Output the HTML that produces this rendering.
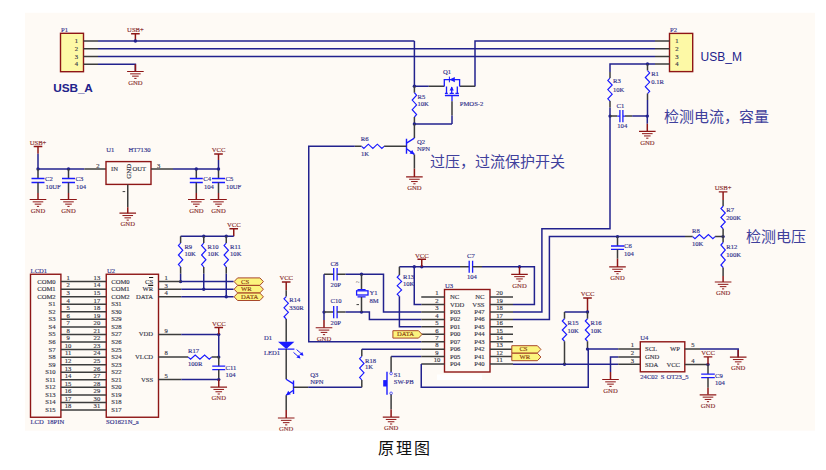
<!DOCTYPE html>
<html lang="zh-CN"><head><meta charset="utf-8"><style>html,body{margin:0;padding:0;background:#fff;}svg{display:block;}</style></head>
<body>
<svg width="826" height="470" viewBox="0 0 826 470">
<rect x="0" y="0" width="826" height="470" fill="#ffffff"/>
<defs><clipPath id="cb"><rect x="25" y="12.8" width="790" height="417.9"/></clipPath></defs>
<rect x="25" y="12.8" width="790" height="417.9" fill="#fefaf5"/>
<g clip-path="url(#cb)">
<rect x="60.5" y="33.3" width="23" height="38.4" fill="#fdf9a6" stroke="#8e1616" stroke-width="1.4"/>
<text transform="translate(61,31.51) scale(0.92,0.95)" font-family="Liberation Serif" font-size="7.2" fill="#34348c" stroke="#34348c" stroke-width="0.18" text-anchor="start" >P1</text>
<text transform="translate(78,43.01) scale(0.92,0.95)" font-family="Liberation Serif" font-size="7.2" fill="#3a3a4a" stroke="#3a3a4a" stroke-width="0.18" text-anchor="end" >1</text>
<line x1="83.5" y1="41" x2="98" y2="41" stroke="#3c3c3c" stroke-width="1.5"/>
<text transform="translate(78,50.76) scale(0.92,0.95)" font-family="Liberation Serif" font-size="7.2" fill="#3a3a4a" stroke="#3a3a4a" stroke-width="0.18" text-anchor="end" >2</text>
<line x1="83.5" y1="48.75" x2="98" y2="48.75" stroke="#3c3c3c" stroke-width="1.5"/>
<text transform="translate(78,58.51) scale(0.92,0.95)" font-family="Liberation Serif" font-size="7.2" fill="#3a3a4a" stroke="#3a3a4a" stroke-width="0.18" text-anchor="end" >3</text>
<line x1="83.5" y1="56.5" x2="98" y2="56.5" stroke="#3c3c3c" stroke-width="1.5"/>
<text transform="translate(78,66.26) scale(0.92,0.95)" font-family="Liberation Serif" font-size="7.2" fill="#3a3a4a" stroke="#3a3a4a" stroke-width="0.18" text-anchor="end" >4</text>
<line x1="83.5" y1="64.25" x2="98" y2="64.25" stroke="#3c3c3c" stroke-width="1.5"/>
<line x1="98" y1="41" x2="414.4" y2="41" stroke="#22228e" stroke-width="1.5"/>
<line x1="98" y1="48.75" x2="655" y2="48.75" stroke="#22228e" stroke-width="1.5"/>
<line x1="98" y1="56.5" x2="655" y2="56.5" stroke="#22228e" stroke-width="1.5"/>
<polyline points="98,64.25 135.4,64.25 135.4,71.5" fill="none" stroke="#22228e" stroke-width="1.5" stroke-linejoin="miter"/>
<line x1="135.4" y1="64.25" x2="135.4" y2="71.5" stroke="#8e1616" stroke-width="1.5"/>
<line x1="127.1" y1="71.5" x2="143.7" y2="71.5" stroke="#8e1616" stroke-width="1.2"/>
<line x1="130.1" y1="73.85" x2="140.7" y2="73.85" stroke="#8e1616" stroke-width="1.0"/>
<line x1="132.1" y1="76.15" x2="138.7" y2="76.15" stroke="#8e1616" stroke-width="1.0"/>
<line x1="134.3" y1="78.4" x2="136.5" y2="78.4" stroke="#8e1616" stroke-width="1.0"/>
<text transform="translate(135.4,84.71) scale(0.92,0.95)" font-family="Liberation Serif" font-size="7.2" fill="#8a3030" stroke="#8a3030" stroke-width="0.18" text-anchor="middle" >GND</text>
<line x1="135.4" y1="33.7" x2="135.4" y2="41" stroke="#8e1616" stroke-width="1.5"/>
<line x1="131.1" y1="33.7" x2="139.7" y2="33.7" stroke="#8e1616" stroke-width="1.4"/>
<text transform="translate(135.4,32.01) scale(0.92,0.95)" font-family="Liberation Serif" font-size="7.2" fill="#8a3030" stroke="#8a3030" stroke-width="0.18" text-anchor="middle" >USB+</text>
<circle cx="135.4" cy="41" r="1.7" fill="#22228e"/>
<text x="53.3" y="91.69" font-family="Liberation Sans" font-size="11.8" fill="#22228a" text-anchor="start" font-weight="bold" letter-spacing="-0.1">USB_A</text>
<rect x="669.5" y="33.4" width="23.2" height="38.2" fill="#fdf9a6" stroke="#8e1616" stroke-width="1.4"/>
<text transform="translate(670,31.71) scale(0.92,0.95)" font-family="Liberation Serif" font-size="7.2" fill="#34348c" stroke="#34348c" stroke-width="0.18" text-anchor="start" >P2</text>
<text transform="translate(676.9,43.01) scale(0.92,0.95)" font-family="Liberation Serif" font-size="7.2" fill="#3a3a4a" stroke="#3a3a4a" stroke-width="0.18" text-anchor="middle" >1</text>
<line x1="655" y1="41" x2="669.5" y2="41" stroke="#3c3c3c" stroke-width="1.5"/>
<text transform="translate(676.9,50.76) scale(0.92,0.95)" font-family="Liberation Serif" font-size="7.2" fill="#3a3a4a" stroke="#3a3a4a" stroke-width="0.18" text-anchor="middle" >2</text>
<line x1="655" y1="48.75" x2="669.5" y2="48.75" stroke="#3c3c3c" stroke-width="1.5"/>
<text transform="translate(676.9,58.51) scale(0.92,0.95)" font-family="Liberation Serif" font-size="7.2" fill="#3a3a4a" stroke="#3a3a4a" stroke-width="0.18" text-anchor="middle" >3</text>
<line x1="655" y1="56.5" x2="669.5" y2="56.5" stroke="#3c3c3c" stroke-width="1.5"/>
<text transform="translate(676.9,66.01) scale(0.92,0.95)" font-family="Liberation Serif" font-size="7.2" fill="#3a3a4a" stroke="#3a3a4a" stroke-width="0.18" text-anchor="middle" >4</text>
<line x1="655" y1="64" x2="669.5" y2="64" stroke="#3c3c3c" stroke-width="1.5"/>
<text x="700.6" y="60.96" font-family="Liberation Sans" font-size="12" fill="#22228a" text-anchor="start" >USB_M</text>
<polyline points="655,41 475,41 475,86.5" fill="none" stroke="#22228e" stroke-width="1.5" stroke-linejoin="miter"/>
<polyline points="655,64 610,64 610,71.9" fill="none" stroke="#22228e" stroke-width="1.5" stroke-linejoin="miter"/>
<polyline points="414.4,41 414.4,86.3 428.8,86.3" fill="none" stroke="#22228e" stroke-width="1.5" stroke-linejoin="miter"/>
<line x1="428.8" y1="86.3" x2="444.2" y2="86.3" stroke="#3c3c3c" stroke-width="1.5"/>
<line x1="459.8" y1="86.3" x2="475" y2="86.3" stroke="#3c3c3c" stroke-width="1.5"/>
<circle cx="414.4" cy="86.3" r="1.7" fill="#22228e"/>
<polyline points="444.3,86.5 444.3,79.6 459.6,79.6 459.6,86.5" fill="none" stroke="#1a1aff" stroke-width="1.3" stroke-linejoin="miter"/>
<polygon points="449.6,79.6 454.8,76.9 454.8,82.3" fill="#1a1aff"/>
<line x1="449.4" y1="76.6" x2="449.4" y2="82.3" stroke="#1a1aff" stroke-width="1"/>
<line x1="446.5" y1="86.5" x2="446.5" y2="93.3" stroke="#1a1aff" stroke-width="1.3"/>
<line x1="457.3" y1="86.5" x2="457.3" y2="93.3" stroke="#1a1aff" stroke-width="1.3"/>
<line x1="444.9" y1="93.3" x2="447.8" y2="93.3" stroke="#1a1aff" stroke-width="1.2"/>
<line x1="455.4" y1="93.3" x2="458.8" y2="93.3" stroke="#1a1aff" stroke-width="1.2"/>
<line x1="451.7" y1="87" x2="451.7" y2="93" stroke="#1a1aff" stroke-width="1.3"/>
<polygon points="451.7,86.6 449.6,90.5 453.8,90.5" fill="#1a1aff"/>
<line x1="449.7" y1="93.3" x2="453.8" y2="93.3" stroke="#1a1aff" stroke-width="1.2"/>
<line x1="444.9" y1="95.5" x2="459" y2="95.5" stroke="#1a1aff" stroke-width="1.4"/>
<line x1="452" y1="95.3" x2="452" y2="101.3" stroke="#1a1aff" stroke-width="1.3"/>
<line x1="452" y1="101.3" x2="452" y2="115.6" stroke="#3c3c3c" stroke-width="1.5"/>
<line x1="452" y1="115.6" x2="452" y2="124" stroke="#22228e" stroke-width="1.5"/>
<text transform="translate(443,74.31) scale(0.92,0.95)" font-family="Liberation Serif" font-size="7.2" fill="#34348c" stroke="#34348c" stroke-width="0.18" text-anchor="start" >Q1</text>
<text transform="translate(459.8,106.41) scale(0.92,0.95)" font-family="Liberation Serif" font-size="7.2" fill="#34348c" stroke="#34348c" stroke-width="0.18" text-anchor="start" >PMOS-2</text>
<line x1="414.4" y1="86.3" x2="414.4" y2="92.75" stroke="#3c3c3c" stroke-width="1.5"/>
<polyline points="414.4,92.75 416.6,95.17 412.2,100.03 416.6,104.88 412.2,109.72 416.6,114.58 414.4,117" fill="none" stroke="#1a1aff" stroke-width="1.15" stroke-linejoin="miter"/>
<line x1="414.4" y1="117" x2="414.4" y2="124" stroke="#3c3c3c" stroke-width="1.5"/>
<circle cx="414.4" cy="124" r="1.7" fill="#22228e"/>
<line x1="414.4" y1="124" x2="452" y2="124" stroke="#22228e" stroke-width="1.5"/>
<text transform="translate(417.5,98.91) scale(0.92,0.95)" font-family="Liberation Serif" font-size="7.2" fill="#34348c" stroke="#34348c" stroke-width="0.18" text-anchor="start" >R5</text>
<text transform="translate(417.5,106.41) scale(0.92,0.95)" font-family="Liberation Serif" font-size="7.2" fill="#34348c" stroke="#34348c" stroke-width="0.18" text-anchor="start" >10K</text>
<line x1="414.4" y1="124" x2="414.4" y2="138.1" stroke="#3c3c3c" stroke-width="1.5"/>
<line x1="414.4" y1="138.1" x2="406.5" y2="143.1" stroke="#1a1aff" stroke-width="1.3"/>
<line x1="406.5" y1="138.7" x2="406.5" y2="153.8" stroke="#1a1aff" stroke-width="1.4"/>
<line x1="406.5" y1="148.7" x2="414.4" y2="154.4" stroke="#1a1aff" stroke-width="1.3"/>
<polygon points="414.6,154.6 409.6,153.6 412.2,149.9" fill="#1a1aff"/>
<line x1="414.4" y1="154.4" x2="414.4" y2="168.8" stroke="#3c3c3c" stroke-width="1.5"/>
<line x1="414.4" y1="168.8" x2="414.4" y2="176.9" stroke="#8e1616" stroke-width="1.5"/>
<line x1="406.1" y1="176.9" x2="422.7" y2="176.9" stroke="#8e1616" stroke-width="1.2"/>
<line x1="409.1" y1="179.25" x2="419.7" y2="179.25" stroke="#8e1616" stroke-width="1.0"/>
<line x1="411.1" y1="181.55" x2="417.7" y2="181.55" stroke="#8e1616" stroke-width="1.0"/>
<line x1="413.3" y1="183.8" x2="415.5" y2="183.8" stroke="#8e1616" stroke-width="1.0"/>
<text transform="translate(414.4,190.11) scale(0.92,0.95)" font-family="Liberation Serif" font-size="7.2" fill="#8a3030" stroke="#8a3030" stroke-width="0.18" text-anchor="middle" >GND</text>
<line x1="384.1" y1="146.3" x2="406.5" y2="146.3" stroke="#3c3c3c" stroke-width="1.5"/>
<text transform="translate(416.9,143.91) scale(0.92,0.95)" font-family="Liberation Serif" font-size="7.2" fill="#34348c" stroke="#34348c" stroke-width="0.18" text-anchor="start" >Q2</text>
<text transform="translate(416.9,151.21) scale(0.92,0.95)" font-family="Liberation Serif" font-size="7.2" fill="#34348c" stroke="#34348c" stroke-width="0.18" text-anchor="start" >NPN</text>
<line x1="354.8" y1="146.3" x2="361.6" y2="146.3" stroke="#3c3c3c" stroke-width="1.5"/>
<polyline points="361.6,146.3 363.85,148.4 368.35,144.2 372.85,148.4 377.35,144.2 381.85,148.4 384.1,146.3" fill="none" stroke="#1a1aff" stroke-width="1.15" stroke-linejoin="miter"/>
<polyline points="354.8,146.3 308.75,146.3 308.75,341.74 421.25,341.74" fill="none" stroke="#22228e" stroke-width="1.5" stroke-linejoin="miter"/>
<text transform="translate(360.8,141.31) scale(0.92,0.95)" font-family="Liberation Serif" font-size="7.2" fill="#34348c" stroke="#34348c" stroke-width="0.18" text-anchor="start" >R6</text>
<text transform="translate(361,155.71) scale(0.92,0.95)" font-family="Liberation Serif" font-size="7.2" fill="#34348c" stroke="#34348c" stroke-width="0.18" text-anchor="start" >1K</text>
<text x="429.5" y="166.95" font-family="Liberation Serif" font-size="15" fill="#40409c" text-anchor="start" >过压，过流保护开关</text>
<line x1="610" y1="71.9" x2="610" y2="78.1" stroke="#3c3c3c" stroke-width="1.5"/>
<polyline points="610,78.1 607.8,80.4 612.2,85 607.8,89.6 612.2,94.2 607.8,98.8 610,101.1" fill="none" stroke="#1a1aff" stroke-width="1.15" stroke-linejoin="miter"/>
<line x1="610" y1="101.1" x2="610" y2="107.5" stroke="#3c3c3c" stroke-width="1.5"/>
<polyline points="610,107.5 610,228.75 541.9,228.75 541.9,311.98 513,311.98" fill="none" stroke="#22228e" stroke-width="1.5" stroke-linejoin="miter"/>
<circle cx="647.5" cy="64" r="1.7" fill="#22228e"/>
<line x1="647.5" y1="64" x2="647.5" y2="70.6" stroke="#3c3c3c" stroke-width="1.5"/>
<polyline points="647.5,70.6 649.7,72.9 645.3,77.5 649.7,82.1 645.3,86.7 649.7,91.3 647.5,93.6" fill="none" stroke="#1a1aff" stroke-width="1.15" stroke-linejoin="miter"/>
<line x1="647.5" y1="93.6" x2="647.5" y2="100" stroke="#3c3c3c" stroke-width="1.5"/>
<line x1="647.5" y1="100" x2="647.5" y2="116.1" stroke="#22228e" stroke-width="1.5"/>
<circle cx="610" cy="116.1" r="1.7" fill="#22228e"/>
<circle cx="647.3" cy="116.1" r="1.7" fill="#22228e"/>
<line x1="610" y1="116.1" x2="617.3" y2="116.1" stroke="#3c3c3c" stroke-width="1.5"/>
<line x1="617.3" y1="116.1" x2="619.9" y2="116.1" stroke="#1a1aff" stroke-width="1.2"/>
<line x1="622.9" y1="116.1" x2="625" y2="116.1" stroke="#1a1aff" stroke-width="1.2"/>
<line x1="619.9" y1="109.9" x2="619.9" y2="122.3" stroke="#1a1aff" stroke-width="1.3"/>
<line x1="622.9" y1="109.9" x2="622.9" y2="122.3" stroke="#1a1aff" stroke-width="1.3"/>
<line x1="625" y1="116.1" x2="632.2" y2="116.1" stroke="#3c3c3c" stroke-width="1.5"/>
<line x1="632.2" y1="116.1" x2="647.3" y2="116.1" stroke="#22228e" stroke-width="1.5"/>
<line x1="647.3" y1="116.1" x2="647.3" y2="123.8" stroke="#22228e" stroke-width="1.5"/>
<line x1="647.3" y1="123.8" x2="647.3" y2="131.3" stroke="#8e1616" stroke-width="1.5"/>
<line x1="639" y1="131.3" x2="655.6" y2="131.3" stroke="#8e1616" stroke-width="1.2"/>
<line x1="642" y1="133.65" x2="652.6" y2="133.65" stroke="#8e1616" stroke-width="1.0"/>
<line x1="644" y1="135.95" x2="650.6" y2="135.95" stroke="#8e1616" stroke-width="1.0"/>
<line x1="646.2" y1="138.2" x2="648.4" y2="138.2" stroke="#8e1616" stroke-width="1.0"/>
<text transform="translate(647.3,144.51) scale(0.92,0.95)" font-family="Liberation Serif" font-size="7.2" fill="#8a3030" stroke="#8a3030" stroke-width="0.18" text-anchor="middle" >GND</text>
<text transform="translate(613,83.31) scale(0.92,0.95)" font-family="Liberation Serif" font-size="7.2" fill="#34348c" stroke="#34348c" stroke-width="0.18" text-anchor="start" >R3</text>
<text transform="translate(613,91.61) scale(0.92,0.95)" font-family="Liberation Serif" font-size="7.2" fill="#34348c" stroke="#34348c" stroke-width="0.18" text-anchor="start" >10K</text>
<text transform="translate(651.2,75.81) scale(0.92,0.95)" font-family="Liberation Serif" font-size="7.2" fill="#34348c" stroke="#34348c" stroke-width="0.18" text-anchor="start" >R1</text>
<text transform="translate(651.2,84.01) scale(0.92,0.95)" font-family="Liberation Serif" font-size="7.2" fill="#34348c" stroke="#34348c" stroke-width="0.18" text-anchor="start" >0.1R</text>
<text transform="translate(616.5,108.01) scale(0.92,0.95)" font-family="Liberation Serif" font-size="7.2" fill="#34348c" stroke="#34348c" stroke-width="0.18" text-anchor="start" >C1</text>
<text transform="translate(617.3,128.11) scale(0.92,0.95)" font-family="Liberation Serif" font-size="7.2" fill="#34348c" stroke="#34348c" stroke-width="0.18" text-anchor="start" >104</text>
<text x="663.75" y="121.95" font-family="Liberation Serif" font-size="15" fill="#40409c" text-anchor="start" >检测电流，容量</text>
<line x1="33.7" y1="146.5" x2="42.3" y2="146.5" stroke="#8e1616" stroke-width="1.4"/>
<text transform="translate(38,144.81) scale(0.92,0.95)" font-family="Liberation Serif" font-size="7.2" fill="#8a3030" stroke="#8a3030" stroke-width="0.18" text-anchor="middle" >USB+</text>
<line x1="38" y1="146.5" x2="38" y2="153.8" stroke="#8e1616" stroke-width="1.5"/>
<line x1="38" y1="153.8" x2="38" y2="169" stroke="#22228e" stroke-width="1.5"/>
<line x1="38" y1="169" x2="84.4" y2="169" stroke="#22228e" stroke-width="1.5"/>
<line x1="84.4" y1="169" x2="106" y2="169" stroke="#3c3c3c" stroke-width="1.5"/>
<circle cx="38" cy="169" r="1.7" fill="#22228e"/>
<circle cx="68.5" cy="169" r="1.7" fill="#22228e"/>
<line x1="38" y1="169" x2="38" y2="178.5" stroke="#3c3c3c" stroke-width="1.5"/>
<line x1="31.5" y1="178.5" x2="44.5" y2="178.5" stroke="#1a1aff" stroke-width="1.3"/>
<line x1="31.5" y1="182.5" x2="44.5" y2="182.5" stroke="#1a1aff" stroke-width="1.3"/>
<line x1="38" y1="182.5" x2="38" y2="193" stroke="#3c3c3c" stroke-width="1.5"/>
<line x1="38" y1="193" x2="38" y2="199.5" stroke="#8e1616" stroke-width="1.5"/>
<line x1="29.7" y1="199.5" x2="46.3" y2="199.5" stroke="#8e1616" stroke-width="1.2"/>
<line x1="32.7" y1="201.85" x2="43.3" y2="201.85" stroke="#8e1616" stroke-width="1.0"/>
<line x1="34.7" y1="204.15" x2="41.3" y2="204.15" stroke="#8e1616" stroke-width="1.0"/>
<line x1="36.9" y1="206.4" x2="39.1" y2="206.4" stroke="#8e1616" stroke-width="1.0"/>
<text transform="translate(38,212.71) scale(0.92,0.95)" font-family="Liberation Serif" font-size="7.2" fill="#8a3030" stroke="#8a3030" stroke-width="0.18" text-anchor="middle" >GND</text>
<text transform="translate(45,181.41) scale(0.92,0.95)" font-family="Liberation Serif" font-size="7.2" fill="#34348c" stroke="#34348c" stroke-width="0.18" text-anchor="start" >C2</text>
<text transform="translate(45.6,189.01) scale(0.92,0.95)" font-family="Liberation Serif" font-size="7.2" fill="#34348c" stroke="#34348c" stroke-width="0.18" text-anchor="start" >10UF</text>
<line x1="68.5" y1="169" x2="68.5" y2="178.5" stroke="#3c3c3c" stroke-width="1.5"/>
<line x1="62" y1="178.5" x2="75" y2="178.5" stroke="#1a1aff" stroke-width="1.3"/>
<line x1="62" y1="182.5" x2="75" y2="182.5" stroke="#1a1aff" stroke-width="1.3"/>
<line x1="68.5" y1="182.5" x2="68.5" y2="193" stroke="#3c3c3c" stroke-width="1.5"/>
<line x1="68.5" y1="193" x2="68.5" y2="199.5" stroke="#8e1616" stroke-width="1.5"/>
<line x1="60.2" y1="199.5" x2="76.8" y2="199.5" stroke="#8e1616" stroke-width="1.2"/>
<line x1="63.2" y1="201.85" x2="73.8" y2="201.85" stroke="#8e1616" stroke-width="1.0"/>
<line x1="65.2" y1="204.15" x2="71.8" y2="204.15" stroke="#8e1616" stroke-width="1.0"/>
<line x1="67.4" y1="206.4" x2="69.6" y2="206.4" stroke="#8e1616" stroke-width="1.0"/>
<text transform="translate(68.5,212.71) scale(0.92,0.95)" font-family="Liberation Serif" font-size="7.2" fill="#8a3030" stroke="#8a3030" stroke-width="0.18" text-anchor="middle" >GND</text>
<text transform="translate(75.5,181.41) scale(0.92,0.95)" font-family="Liberation Serif" font-size="7.2" fill="#34348c" stroke="#34348c" stroke-width="0.18" text-anchor="start" >C3</text>
<text transform="translate(76.1,189.01) scale(0.92,0.95)" font-family="Liberation Serif" font-size="7.2" fill="#34348c" stroke="#34348c" stroke-width="0.18" text-anchor="start" >104</text>
<line x1="196.3" y1="169" x2="196.3" y2="178.5" stroke="#3c3c3c" stroke-width="1.5"/>
<line x1="189.8" y1="178.5" x2="202.8" y2="178.5" stroke="#1a1aff" stroke-width="1.3"/>
<line x1="189.8" y1="182.5" x2="202.8" y2="182.5" stroke="#1a1aff" stroke-width="1.3"/>
<line x1="196.3" y1="182.5" x2="196.3" y2="193" stroke="#3c3c3c" stroke-width="1.5"/>
<line x1="196.3" y1="193" x2="196.3" y2="199.5" stroke="#8e1616" stroke-width="1.5"/>
<line x1="188" y1="199.5" x2="204.6" y2="199.5" stroke="#8e1616" stroke-width="1.2"/>
<line x1="191" y1="201.85" x2="201.6" y2="201.85" stroke="#8e1616" stroke-width="1.0"/>
<line x1="193" y1="204.15" x2="199.6" y2="204.15" stroke="#8e1616" stroke-width="1.0"/>
<line x1="195.2" y1="206.4" x2="197.4" y2="206.4" stroke="#8e1616" stroke-width="1.0"/>
<text transform="translate(196.3,212.71) scale(0.92,0.95)" font-family="Liberation Serif" font-size="7.2" fill="#8a3030" stroke="#8a3030" stroke-width="0.18" text-anchor="middle" >GND</text>
<text transform="translate(203.3,181.41) scale(0.92,0.95)" font-family="Liberation Serif" font-size="7.2" fill="#34348c" stroke="#34348c" stroke-width="0.18" text-anchor="start" >C4</text>
<text transform="translate(203.9,189.01) scale(0.92,0.95)" font-family="Liberation Serif" font-size="7.2" fill="#34348c" stroke="#34348c" stroke-width="0.18" text-anchor="start" >104</text>
<line x1="218.5" y1="169" x2="218.5" y2="178.5" stroke="#3c3c3c" stroke-width="1.5"/>
<line x1="212" y1="178.5" x2="225" y2="178.5" stroke="#1a1aff" stroke-width="1.3"/>
<line x1="212" y1="182.5" x2="225" y2="182.5" stroke="#1a1aff" stroke-width="1.3"/>
<line x1="218.5" y1="182.5" x2="218.5" y2="193" stroke="#3c3c3c" stroke-width="1.5"/>
<line x1="218.5" y1="193" x2="218.5" y2="199.5" stroke="#8e1616" stroke-width="1.5"/>
<line x1="210.2" y1="199.5" x2="226.8" y2="199.5" stroke="#8e1616" stroke-width="1.2"/>
<line x1="213.2" y1="201.85" x2="223.8" y2="201.85" stroke="#8e1616" stroke-width="1.0"/>
<line x1="215.2" y1="204.15" x2="221.8" y2="204.15" stroke="#8e1616" stroke-width="1.0"/>
<line x1="217.4" y1="206.4" x2="219.6" y2="206.4" stroke="#8e1616" stroke-width="1.0"/>
<text transform="translate(218.5,212.71) scale(0.92,0.95)" font-family="Liberation Serif" font-size="7.2" fill="#8a3030" stroke="#8a3030" stroke-width="0.18" text-anchor="middle" >GND</text>
<text transform="translate(225.5,181.41) scale(0.92,0.95)" font-family="Liberation Serif" font-size="7.2" fill="#34348c" stroke="#34348c" stroke-width="0.18" text-anchor="start" >C5</text>
<text transform="translate(226.1,189.01) scale(0.92,0.95)" font-family="Liberation Serif" font-size="7.2" fill="#34348c" stroke="#34348c" stroke-width="0.18" text-anchor="start" >10UF</text>
<rect x="106" y="161.6" width="45" height="22.8" fill="none" stroke="#8e1616" stroke-width="1.4"/>
<text transform="translate(106.25,152.26) scale(0.92,0.95)" font-family="Liberation Serif" font-size="7.2" fill="#34348c" stroke="#34348c" stroke-width="0.18" text-anchor="start" >U1</text>
<text transform="translate(128.5,152.26) scale(0.92,0.95)" font-family="Liberation Serif" font-size="7.2" fill="#34348c" stroke="#34348c" stroke-width="0.18" text-anchor="start" >HT7130</text>
<text transform="translate(111,170.51) scale(0.92,0.95)" font-family="Liberation Serif" font-size="7.2" fill="#3a3a4a" stroke="#3a3a4a" stroke-width="0.18" text-anchor="start" >IN</text>
<text transform="translate(132.5,170.51) scale(0.92,0.95)" font-family="Liberation Serif" font-size="7.2" fill="#3a3a4a" stroke="#3a3a4a" stroke-width="0.18" text-anchor="start" >OUT</text>
<text transform="translate(130.6,171.3) rotate(-90) scale(0.95,0.95)" font-family="Liberation Serif" font-size="7.2" fill="#3a3a4a" stroke="#3a3a4a" stroke-width="0.18" text-anchor="middle">GND</text>
<text transform="translate(98,167.61) scale(0.92,0.95)" font-family="Liberation Serif" font-size="7.2" fill="#3a3a4a" stroke="#3a3a4a" stroke-width="0.18" text-anchor="middle" >2</text>
<text transform="translate(158.7,167.61) scale(0.92,0.95)" font-family="Liberation Serif" font-size="7.2" fill="#3a3a4a" stroke="#3a3a4a" stroke-width="0.18" text-anchor="middle" >3</text>
<line x1="127.75" y1="184.4" x2="127.75" y2="207.2" stroke="#3c3c3c" stroke-width="1.5"/>
<line x1="127.75" y1="207.2" x2="127.75" y2="213.2" stroke="#8e1616" stroke-width="1.5"/>
<line x1="119.45" y1="213.2" x2="136.05" y2="213.2" stroke="#8e1616" stroke-width="1.2"/>
<line x1="122.45" y1="215.55" x2="133.05" y2="215.55" stroke="#8e1616" stroke-width="1.0"/>
<line x1="124.45" y1="217.85" x2="131.05" y2="217.85" stroke="#8e1616" stroke-width="1.0"/>
<line x1="126.65" y1="220.1" x2="128.85" y2="220.1" stroke="#8e1616" stroke-width="1.0"/>
<text transform="translate(127.75,226.41) scale(0.92,0.95)" font-family="Liberation Serif" font-size="7.2" fill="#8a3030" stroke="#8a3030" stroke-width="0.18" text-anchor="middle" >GND</text>
<line x1="122.6" y1="191.6" x2="125.2" y2="191.6" stroke="#3c3c3c" stroke-width="1"/>
<line x1="151" y1="169" x2="173" y2="169" stroke="#3c3c3c" stroke-width="1.5"/>
<line x1="173" y1="169" x2="218.5" y2="169" stroke="#22228e" stroke-width="1.5"/>
<circle cx="196.3" cy="169" r="1.7" fill="#22228e"/>
<circle cx="218.5" cy="169" r="1.7" fill="#22228e"/>
<line x1="218.5" y1="154" x2="218.5" y2="160" stroke="#8e1616" stroke-width="1.5"/>
<line x1="218.5" y1="160" x2="218.5" y2="169" stroke="#22228e" stroke-width="1.5"/>
<line x1="214.2" y1="154" x2="222.8" y2="154" stroke="#8e1616" stroke-width="1.4"/>
<text transform="translate(218.5,152.31) scale(0.92,0.95)" font-family="Liberation Serif" font-size="7.2" fill="#8a3030" stroke="#8a3030" stroke-width="0.18" text-anchor="middle" >VCC</text>
<line x1="229.45" y1="228.75" x2="238.05" y2="228.75" stroke="#8e1616" stroke-width="1.4"/>
<text transform="translate(233.75,227.06) scale(0.92,0.95)" font-family="Liberation Serif" font-size="7.2" fill="#8a3030" stroke="#8a3030" stroke-width="0.18" text-anchor="middle" >VCC</text>
<line x1="233.75" y1="228.75" x2="233.75" y2="236.25" stroke="#8e1616" stroke-width="1.5"/>
<line x1="180.6" y1="236.25" x2="233.75" y2="236.25" stroke="#22228e" stroke-width="1.5"/>
<circle cx="203.75" cy="236.25" r="1.7" fill="#22228e"/>
<circle cx="226.25" cy="236.25" r="1.7" fill="#22228e"/>
<line x1="180.6" y1="236.25" x2="180.6" y2="243.1" stroke="#3c3c3c" stroke-width="1.5"/>
<polyline points="180.6,243.1 178.4,245.48 182.8,250.24 178.4,255 182.8,259.76 178.4,264.52 180.6,266.9" fill="none" stroke="#1a1aff" stroke-width="1.15" stroke-linejoin="miter"/>
<line x1="180.6" y1="266.9" x2="180.6" y2="273.75" stroke="#3c3c3c" stroke-width="1.5"/>
<line x1="180.6" y1="273.75" x2="180.6" y2="281.6" stroke="#22228e" stroke-width="1.5"/>
<circle cx="180.6" cy="281.6" r="1.7" fill="#22228e"/>
<text transform="translate(184.4,248.51) scale(0.92,0.95)" font-family="Liberation Serif" font-size="7.2" fill="#34348c" stroke="#34348c" stroke-width="0.18" text-anchor="start" >R9</text>
<text transform="translate(184.4,256.01) scale(0.92,0.95)" font-family="Liberation Serif" font-size="7.2" fill="#34348c" stroke="#34348c" stroke-width="0.18" text-anchor="start" >10K</text>
<line x1="203.75" y1="236.25" x2="203.75" y2="243.1" stroke="#3c3c3c" stroke-width="1.5"/>
<polyline points="203.75,243.1 201.55,245.48 205.95,250.24 201.55,255 205.95,259.76 201.55,264.52 203.75,266.9" fill="none" stroke="#1a1aff" stroke-width="1.15" stroke-linejoin="miter"/>
<line x1="203.75" y1="266.9" x2="203.75" y2="273.75" stroke="#3c3c3c" stroke-width="1.5"/>
<line x1="203.75" y1="273.75" x2="203.75" y2="289.2" stroke="#22228e" stroke-width="1.5"/>
<circle cx="203.75" cy="289.2" r="1.7" fill="#22228e"/>
<text transform="translate(207.55,248.51) scale(0.92,0.95)" font-family="Liberation Serif" font-size="7.2" fill="#34348c" stroke="#34348c" stroke-width="0.18" text-anchor="start" >R10</text>
<text transform="translate(207.55,256.01) scale(0.92,0.95)" font-family="Liberation Serif" font-size="7.2" fill="#34348c" stroke="#34348c" stroke-width="0.18" text-anchor="start" >10K</text>
<line x1="226.25" y1="236.25" x2="226.25" y2="243.1" stroke="#3c3c3c" stroke-width="1.5"/>
<polyline points="226.25,243.1 224.05,245.48 228.45,250.24 224.05,255 228.45,259.76 224.05,264.52 226.25,266.9" fill="none" stroke="#1a1aff" stroke-width="1.15" stroke-linejoin="miter"/>
<line x1="226.25" y1="266.9" x2="226.25" y2="273.75" stroke="#3c3c3c" stroke-width="1.5"/>
<line x1="226.25" y1="273.75" x2="226.25" y2="296.8" stroke="#22228e" stroke-width="1.5"/>
<circle cx="226.25" cy="296.8" r="1.7" fill="#22228e"/>
<text transform="translate(230.05,248.51) scale(0.92,0.95)" font-family="Liberation Serif" font-size="7.2" fill="#34348c" stroke="#34348c" stroke-width="0.18" text-anchor="start" >R11</text>
<text transform="translate(230.05,256.01) scale(0.92,0.95)" font-family="Liberation Serif" font-size="7.2" fill="#34348c" stroke="#34348c" stroke-width="0.18" text-anchor="start" >10K</text>
<rect x="30.5" y="274.25" width="30.4" height="143" fill="none" stroke="#8e1616" stroke-width="1.4"/>
<rect x="106.25" y="274.25" width="52.25" height="143" fill="none" stroke="#8e1616" stroke-width="1.4"/>
<text transform="translate(30.6,272.51) scale(0.92,0.95)" font-family="Liberation Serif" font-size="7.2" fill="#34348c" stroke="#34348c" stroke-width="0.18" text-anchor="start" >LCD1</text>
<text transform="translate(106.9,272.51) scale(0.92,0.95)" font-family="Liberation Serif" font-size="7.2" fill="#34348c" stroke="#34348c" stroke-width="0.18" text-anchor="start" >U2</text>
<text transform="translate(30.5,423.51) scale(0.92,0.95)" font-family="Liberation Serif" font-size="7.2" fill="#34348c" stroke="#34348c" stroke-width="0.18" text-anchor="start" >LCD</text>
<text transform="translate(47,423.51) scale(0.92,0.95)" font-family="Liberation Serif" font-size="7.2" fill="#34348c" stroke="#34348c" stroke-width="0.18" text-anchor="start" >18PIN</text>
<text transform="translate(106,423.91) scale(0.92,0.95)" font-family="Liberation Serif" font-size="7.2" fill="#34348c" stroke="#34348c" stroke-width="0.18" text-anchor="start" >SO1621N_a</text>
<line x1="60.9" y1="281.6" x2="106.25" y2="281.6" stroke="#3c3c3c" stroke-width="1.5"/>
<text transform="translate(55.6,283.61) scale(0.92,0.95)" font-family="Liberation Serif" font-size="7.2" fill="#3a3a4a" stroke="#3a3a4a" stroke-width="0.18" text-anchor="end" >COM0</text>
<text transform="translate(111.25,283.61) scale(0.92,0.95)" font-family="Liberation Serif" font-size="7.2" fill="#3a3a4a" stroke="#3a3a4a" stroke-width="0.18" text-anchor="start" >COM0</text>
<text transform="translate(68.1,279.91) scale(0.92,0.95)" font-family="Liberation Serif" font-size="7.2" fill="#3a3a4a" stroke="#3a3a4a" stroke-width="0.18" text-anchor="middle" >1</text>
<text transform="translate(96.9,279.91) scale(0.92,0.95)" font-family="Liberation Serif" font-size="7.2" fill="#3a3a4a" stroke="#3a3a4a" stroke-width="0.18" text-anchor="middle" >13</text>
<line x1="60.9" y1="289.15" x2="106.25" y2="289.15" stroke="#3c3c3c" stroke-width="1.5"/>
<text transform="translate(55.6,291.17) scale(0.92,0.95)" font-family="Liberation Serif" font-size="7.2" fill="#3a3a4a" stroke="#3a3a4a" stroke-width="0.18" text-anchor="end" >COM1</text>
<text transform="translate(111.25,291.17) scale(0.92,0.95)" font-family="Liberation Serif" font-size="7.2" fill="#3a3a4a" stroke="#3a3a4a" stroke-width="0.18" text-anchor="start" >COM1</text>
<text transform="translate(68.1,287.47) scale(0.92,0.95)" font-family="Liberation Serif" font-size="7.2" fill="#3a3a4a" stroke="#3a3a4a" stroke-width="0.18" text-anchor="middle" >2</text>
<text transform="translate(96.9,287.47) scale(0.92,0.95)" font-family="Liberation Serif" font-size="7.2" fill="#3a3a4a" stroke="#3a3a4a" stroke-width="0.18" text-anchor="middle" >14</text>
<line x1="60.9" y1="296.71" x2="106.25" y2="296.71" stroke="#3c3c3c" stroke-width="1.5"/>
<text transform="translate(55.6,298.72) scale(0.92,0.95)" font-family="Liberation Serif" font-size="7.2" fill="#3a3a4a" stroke="#3a3a4a" stroke-width="0.18" text-anchor="end" >COM2</text>
<text transform="translate(111.25,298.72) scale(0.92,0.95)" font-family="Liberation Serif" font-size="7.2" fill="#3a3a4a" stroke="#3a3a4a" stroke-width="0.18" text-anchor="start" >COM2</text>
<text transform="translate(68.1,295.02) scale(0.92,0.95)" font-family="Liberation Serif" font-size="7.2" fill="#3a3a4a" stroke="#3a3a4a" stroke-width="0.18" text-anchor="middle" >3</text>
<text transform="translate(96.9,295.02) scale(0.92,0.95)" font-family="Liberation Serif" font-size="7.2" fill="#3a3a4a" stroke="#3a3a4a" stroke-width="0.18" text-anchor="middle" >15</text>
<line x1="60.9" y1="304.26" x2="106.25" y2="304.26" stroke="#3c3c3c" stroke-width="1.5"/>
<text transform="translate(55.6,306.27) scale(0.92,0.95)" font-family="Liberation Serif" font-size="7.2" fill="#3a3a4a" stroke="#3a3a4a" stroke-width="0.18" text-anchor="end" >S1</text>
<text transform="translate(111.25,306.27) scale(0.92,0.95)" font-family="Liberation Serif" font-size="7.2" fill="#3a3a4a" stroke="#3a3a4a" stroke-width="0.18" text-anchor="start" >S31</text>
<text transform="translate(68.1,302.57) scale(0.92,0.95)" font-family="Liberation Serif" font-size="7.2" fill="#3a3a4a" stroke="#3a3a4a" stroke-width="0.18" text-anchor="middle" >4</text>
<text transform="translate(96.9,302.57) scale(0.92,0.95)" font-family="Liberation Serif" font-size="7.2" fill="#3a3a4a" stroke="#3a3a4a" stroke-width="0.18" text-anchor="middle" >17</text>
<line x1="60.9" y1="311.81" x2="106.25" y2="311.81" stroke="#3c3c3c" stroke-width="1.5"/>
<text transform="translate(55.6,313.83) scale(0.92,0.95)" font-family="Liberation Serif" font-size="7.2" fill="#3a3a4a" stroke="#3a3a4a" stroke-width="0.18" text-anchor="end" >S2</text>
<text transform="translate(111.25,313.83) scale(0.92,0.95)" font-family="Liberation Serif" font-size="7.2" fill="#3a3a4a" stroke="#3a3a4a" stroke-width="0.18" text-anchor="start" >S30</text>
<text transform="translate(68.1,310.13) scale(0.92,0.95)" font-family="Liberation Serif" font-size="7.2" fill="#3a3a4a" stroke="#3a3a4a" stroke-width="0.18" text-anchor="middle" >5</text>
<text transform="translate(96.9,310.13) scale(0.92,0.95)" font-family="Liberation Serif" font-size="7.2" fill="#3a3a4a" stroke="#3a3a4a" stroke-width="0.18" text-anchor="middle" >18</text>
<line x1="60.9" y1="319.37" x2="106.25" y2="319.37" stroke="#3c3c3c" stroke-width="1.5"/>
<text transform="translate(55.6,321.38) scale(0.92,0.95)" font-family="Liberation Serif" font-size="7.2" fill="#3a3a4a" stroke="#3a3a4a" stroke-width="0.18" text-anchor="end" >S3</text>
<text transform="translate(111.25,321.38) scale(0.92,0.95)" font-family="Liberation Serif" font-size="7.2" fill="#3a3a4a" stroke="#3a3a4a" stroke-width="0.18" text-anchor="start" >S29</text>
<text transform="translate(68.1,317.68) scale(0.92,0.95)" font-family="Liberation Serif" font-size="7.2" fill="#3a3a4a" stroke="#3a3a4a" stroke-width="0.18" text-anchor="middle" >6</text>
<text transform="translate(96.9,317.68) scale(0.92,0.95)" font-family="Liberation Serif" font-size="7.2" fill="#3a3a4a" stroke="#3a3a4a" stroke-width="0.18" text-anchor="middle" >19</text>
<line x1="60.9" y1="326.92" x2="106.25" y2="326.92" stroke="#3c3c3c" stroke-width="1.5"/>
<text transform="translate(55.6,328.93) scale(0.92,0.95)" font-family="Liberation Serif" font-size="7.2" fill="#3a3a4a" stroke="#3a3a4a" stroke-width="0.18" text-anchor="end" >S4</text>
<text transform="translate(111.25,328.93) scale(0.92,0.95)" font-family="Liberation Serif" font-size="7.2" fill="#3a3a4a" stroke="#3a3a4a" stroke-width="0.18" text-anchor="start" >S28</text>
<text transform="translate(68.1,325.23) scale(0.92,0.95)" font-family="Liberation Serif" font-size="7.2" fill="#3a3a4a" stroke="#3a3a4a" stroke-width="0.18" text-anchor="middle" >7</text>
<text transform="translate(96.9,325.23) scale(0.92,0.95)" font-family="Liberation Serif" font-size="7.2" fill="#3a3a4a" stroke="#3a3a4a" stroke-width="0.18" text-anchor="middle" >20</text>
<line x1="60.9" y1="334.47" x2="106.25" y2="334.47" stroke="#3c3c3c" stroke-width="1.5"/>
<text transform="translate(55.6,336.49) scale(0.92,0.95)" font-family="Liberation Serif" font-size="7.2" fill="#3a3a4a" stroke="#3a3a4a" stroke-width="0.18" text-anchor="end" >S5</text>
<text transform="translate(111.25,336.49) scale(0.92,0.95)" font-family="Liberation Serif" font-size="7.2" fill="#3a3a4a" stroke="#3a3a4a" stroke-width="0.18" text-anchor="start" >S27</text>
<text transform="translate(68.1,332.79) scale(0.92,0.95)" font-family="Liberation Serif" font-size="7.2" fill="#3a3a4a" stroke="#3a3a4a" stroke-width="0.18" text-anchor="middle" >8</text>
<text transform="translate(96.9,332.79) scale(0.92,0.95)" font-family="Liberation Serif" font-size="7.2" fill="#3a3a4a" stroke="#3a3a4a" stroke-width="0.18" text-anchor="middle" >21</text>
<line x1="60.9" y1="342.02" x2="106.25" y2="342.02" stroke="#3c3c3c" stroke-width="1.5"/>
<text transform="translate(55.6,344.04) scale(0.92,0.95)" font-family="Liberation Serif" font-size="7.2" fill="#3a3a4a" stroke="#3a3a4a" stroke-width="0.18" text-anchor="end" >S6</text>
<text transform="translate(111.25,344.04) scale(0.92,0.95)" font-family="Liberation Serif" font-size="7.2" fill="#3a3a4a" stroke="#3a3a4a" stroke-width="0.18" text-anchor="start" >S26</text>
<text transform="translate(68.1,340.34) scale(0.92,0.95)" font-family="Liberation Serif" font-size="7.2" fill="#3a3a4a" stroke="#3a3a4a" stroke-width="0.18" text-anchor="middle" >9</text>
<text transform="translate(96.9,340.34) scale(0.92,0.95)" font-family="Liberation Serif" font-size="7.2" fill="#3a3a4a" stroke="#3a3a4a" stroke-width="0.18" text-anchor="middle" >22</text>
<line x1="60.9" y1="349.58" x2="106.25" y2="349.58" stroke="#3c3c3c" stroke-width="1.5"/>
<text transform="translate(55.6,351.59) scale(0.92,0.95)" font-family="Liberation Serif" font-size="7.2" fill="#3a3a4a" stroke="#3a3a4a" stroke-width="0.18" text-anchor="end" >S7</text>
<text transform="translate(111.25,351.59) scale(0.92,0.95)" font-family="Liberation Serif" font-size="7.2" fill="#3a3a4a" stroke="#3a3a4a" stroke-width="0.18" text-anchor="start" >S25</text>
<text transform="translate(68.1,347.89) scale(0.92,0.95)" font-family="Liberation Serif" font-size="7.2" fill="#3a3a4a" stroke="#3a3a4a" stroke-width="0.18" text-anchor="middle" >10</text>
<text transform="translate(96.9,347.89) scale(0.92,0.95)" font-family="Liberation Serif" font-size="7.2" fill="#3a3a4a" stroke="#3a3a4a" stroke-width="0.18" text-anchor="middle" >23</text>
<line x1="60.9" y1="357.13" x2="106.25" y2="357.13" stroke="#3c3c3c" stroke-width="1.5"/>
<text transform="translate(55.6,359.14) scale(0.92,0.95)" font-family="Liberation Serif" font-size="7.2" fill="#3a3a4a" stroke="#3a3a4a" stroke-width="0.18" text-anchor="end" >S8</text>
<text transform="translate(111.25,359.14) scale(0.92,0.95)" font-family="Liberation Serif" font-size="7.2" fill="#3a3a4a" stroke="#3a3a4a" stroke-width="0.18" text-anchor="start" >S24</text>
<text transform="translate(68.1,355.44) scale(0.92,0.95)" font-family="Liberation Serif" font-size="7.2" fill="#3a3a4a" stroke="#3a3a4a" stroke-width="0.18" text-anchor="middle" >11</text>
<text transform="translate(96.9,355.44) scale(0.92,0.95)" font-family="Liberation Serif" font-size="7.2" fill="#3a3a4a" stroke="#3a3a4a" stroke-width="0.18" text-anchor="middle" >24</text>
<line x1="60.9" y1="364.68" x2="106.25" y2="364.68" stroke="#3c3c3c" stroke-width="1.5"/>
<text transform="translate(55.6,366.7) scale(0.92,0.95)" font-family="Liberation Serif" font-size="7.2" fill="#3a3a4a" stroke="#3a3a4a" stroke-width="0.18" text-anchor="end" >S9</text>
<text transform="translate(111.25,366.7) scale(0.92,0.95)" font-family="Liberation Serif" font-size="7.2" fill="#3a3a4a" stroke="#3a3a4a" stroke-width="0.18" text-anchor="start" >S23</text>
<text transform="translate(68.1,363) scale(0.92,0.95)" font-family="Liberation Serif" font-size="7.2" fill="#3a3a4a" stroke="#3a3a4a" stroke-width="0.18" text-anchor="middle" >12</text>
<text transform="translate(96.9,363) scale(0.92,0.95)" font-family="Liberation Serif" font-size="7.2" fill="#3a3a4a" stroke="#3a3a4a" stroke-width="0.18" text-anchor="middle" >25</text>
<line x1="60.9" y1="372.24" x2="106.25" y2="372.24" stroke="#3c3c3c" stroke-width="1.5"/>
<text transform="translate(55.6,374.25) scale(0.92,0.95)" font-family="Liberation Serif" font-size="7.2" fill="#3a3a4a" stroke="#3a3a4a" stroke-width="0.18" text-anchor="end" >S10</text>
<text transform="translate(111.25,374.25) scale(0.92,0.95)" font-family="Liberation Serif" font-size="7.2" fill="#3a3a4a" stroke="#3a3a4a" stroke-width="0.18" text-anchor="start" >S22</text>
<text transform="translate(68.1,370.55) scale(0.92,0.95)" font-family="Liberation Serif" font-size="7.2" fill="#3a3a4a" stroke="#3a3a4a" stroke-width="0.18" text-anchor="middle" >13</text>
<text transform="translate(96.9,370.55) scale(0.92,0.95)" font-family="Liberation Serif" font-size="7.2" fill="#3a3a4a" stroke="#3a3a4a" stroke-width="0.18" text-anchor="middle" >26</text>
<line x1="60.9" y1="379.79" x2="106.25" y2="379.79" stroke="#3c3c3c" stroke-width="1.5"/>
<text transform="translate(55.6,381.8) scale(0.92,0.95)" font-family="Liberation Serif" font-size="7.2" fill="#3a3a4a" stroke="#3a3a4a" stroke-width="0.18" text-anchor="end" >S11</text>
<text transform="translate(111.25,381.8) scale(0.92,0.95)" font-family="Liberation Serif" font-size="7.2" fill="#3a3a4a" stroke="#3a3a4a" stroke-width="0.18" text-anchor="start" >S21</text>
<text transform="translate(68.1,378.1) scale(0.92,0.95)" font-family="Liberation Serif" font-size="7.2" fill="#3a3a4a" stroke="#3a3a4a" stroke-width="0.18" text-anchor="middle" >14</text>
<text transform="translate(96.9,378.1) scale(0.92,0.95)" font-family="Liberation Serif" font-size="7.2" fill="#3a3a4a" stroke="#3a3a4a" stroke-width="0.18" text-anchor="middle" >27</text>
<line x1="60.9" y1="387.34" x2="106.25" y2="387.34" stroke="#3c3c3c" stroke-width="1.5"/>
<text transform="translate(55.6,389.36) scale(0.92,0.95)" font-family="Liberation Serif" font-size="7.2" fill="#3a3a4a" stroke="#3a3a4a" stroke-width="0.18" text-anchor="end" >S12</text>
<text transform="translate(111.25,389.36) scale(0.92,0.95)" font-family="Liberation Serif" font-size="7.2" fill="#3a3a4a" stroke="#3a3a4a" stroke-width="0.18" text-anchor="start" >S20</text>
<text transform="translate(68.1,385.66) scale(0.92,0.95)" font-family="Liberation Serif" font-size="7.2" fill="#3a3a4a" stroke="#3a3a4a" stroke-width="0.18" text-anchor="middle" >15</text>
<text transform="translate(96.9,385.66) scale(0.92,0.95)" font-family="Liberation Serif" font-size="7.2" fill="#3a3a4a" stroke="#3a3a4a" stroke-width="0.18" text-anchor="middle" >28</text>
<line x1="60.9" y1="394.9" x2="106.25" y2="394.9" stroke="#3c3c3c" stroke-width="1.5"/>
<text transform="translate(55.6,396.91) scale(0.92,0.95)" font-family="Liberation Serif" font-size="7.2" fill="#3a3a4a" stroke="#3a3a4a" stroke-width="0.18" text-anchor="end" >S13</text>
<text transform="translate(111.25,396.91) scale(0.92,0.95)" font-family="Liberation Serif" font-size="7.2" fill="#3a3a4a" stroke="#3a3a4a" stroke-width="0.18" text-anchor="start" >S19</text>
<text transform="translate(68.1,393.21) scale(0.92,0.95)" font-family="Liberation Serif" font-size="7.2" fill="#3a3a4a" stroke="#3a3a4a" stroke-width="0.18" text-anchor="middle" >16</text>
<text transform="translate(96.9,393.21) scale(0.92,0.95)" font-family="Liberation Serif" font-size="7.2" fill="#3a3a4a" stroke="#3a3a4a" stroke-width="0.18" text-anchor="middle" >29</text>
<line x1="60.9" y1="402.45" x2="106.25" y2="402.45" stroke="#3c3c3c" stroke-width="1.5"/>
<text transform="translate(55.6,404.46) scale(0.92,0.95)" font-family="Liberation Serif" font-size="7.2" fill="#3a3a4a" stroke="#3a3a4a" stroke-width="0.18" text-anchor="end" >S14</text>
<text transform="translate(111.25,404.46) scale(0.92,0.95)" font-family="Liberation Serif" font-size="7.2" fill="#3a3a4a" stroke="#3a3a4a" stroke-width="0.18" text-anchor="start" >S18</text>
<text transform="translate(68.1,400.76) scale(0.92,0.95)" font-family="Liberation Serif" font-size="7.2" fill="#3a3a4a" stroke="#3a3a4a" stroke-width="0.18" text-anchor="middle" >17</text>
<text transform="translate(96.9,400.76) scale(0.92,0.95)" font-family="Liberation Serif" font-size="7.2" fill="#3a3a4a" stroke="#3a3a4a" stroke-width="0.18" text-anchor="middle" >30</text>
<line x1="60.9" y1="410" x2="106.25" y2="410" stroke="#3c3c3c" stroke-width="1.5"/>
<text transform="translate(55.6,412.02) scale(0.92,0.95)" font-family="Liberation Serif" font-size="7.2" fill="#3a3a4a" stroke="#3a3a4a" stroke-width="0.18" text-anchor="end" >S15</text>
<text transform="translate(111.25,412.02) scale(0.92,0.95)" font-family="Liberation Serif" font-size="7.2" fill="#3a3a4a" stroke="#3a3a4a" stroke-width="0.18" text-anchor="start" >S17</text>
<text transform="translate(68.1,408.32) scale(0.92,0.95)" font-family="Liberation Serif" font-size="7.2" fill="#3a3a4a" stroke="#3a3a4a" stroke-width="0.18" text-anchor="middle" >18</text>
<text transform="translate(96.9,408.32) scale(0.92,0.95)" font-family="Liberation Serif" font-size="7.2" fill="#3a3a4a" stroke="#3a3a4a" stroke-width="0.18" text-anchor="middle" >31</text>
<text transform="translate(153.1,283.61) scale(0.92,0.95)" font-family="Liberation Serif" font-size="7.2" fill="#3a3a4a" stroke="#3a3a4a" stroke-width="0.18" text-anchor="end" >CS</text>
<text transform="translate(166.25,279.91) scale(0.92,0.95)" font-family="Liberation Serif" font-size="7.2" fill="#3a3a4a" stroke="#3a3a4a" stroke-width="0.18" text-anchor="middle" >1</text>
<text transform="translate(153.1,291.21) scale(0.92,0.95)" font-family="Liberation Serif" font-size="7.2" fill="#3a3a4a" stroke="#3a3a4a" stroke-width="0.18" text-anchor="end" >WR</text>
<text transform="translate(166.25,287.51) scale(0.92,0.95)" font-family="Liberation Serif" font-size="7.2" fill="#3a3a4a" stroke="#3a3a4a" stroke-width="0.18" text-anchor="middle" >3</text>
<text transform="translate(153.1,298.81) scale(0.92,0.95)" font-family="Liberation Serif" font-size="7.2" fill="#3a3a4a" stroke="#3a3a4a" stroke-width="0.18" text-anchor="end" >DATA</text>
<text transform="translate(166.25,295.11) scale(0.92,0.95)" font-family="Liberation Serif" font-size="7.2" fill="#3a3a4a" stroke="#3a3a4a" stroke-width="0.18" text-anchor="middle" >4</text>
<text transform="translate(153.1,336.41) scale(0.92,0.95)" font-family="Liberation Serif" font-size="7.2" fill="#3a3a4a" stroke="#3a3a4a" stroke-width="0.18" text-anchor="end" >VDD</text>
<text transform="translate(166.25,332.71) scale(0.92,0.95)" font-family="Liberation Serif" font-size="7.2" fill="#3a3a4a" stroke="#3a3a4a" stroke-width="0.18" text-anchor="middle" >9</text>
<text transform="translate(153.1,359.11) scale(0.92,0.95)" font-family="Liberation Serif" font-size="7.2" fill="#3a3a4a" stroke="#3a3a4a" stroke-width="0.18" text-anchor="end" >VLCD</text>
<text transform="translate(166.25,355.41) scale(0.92,0.95)" font-family="Liberation Serif" font-size="7.2" fill="#3a3a4a" stroke="#3a3a4a" stroke-width="0.18" text-anchor="middle" >8</text>
<text transform="translate(153.1,381.61) scale(0.92,0.95)" font-family="Liberation Serif" font-size="7.2" fill="#3a3a4a" stroke="#3a3a4a" stroke-width="0.18" text-anchor="end" >VSS</text>
<text transform="translate(166.25,377.91) scale(0.92,0.95)" font-family="Liberation Serif" font-size="7.2" fill="#3a3a4a" stroke="#3a3a4a" stroke-width="0.18" text-anchor="middle" >5</text>
<line x1="149" y1="277.5" x2="153.2" y2="277.5" stroke="#1a1a1a" stroke-width="1.1"/>
<line x1="148.2" y1="285.4" x2="153.2" y2="285.4" stroke="#1a1a1a" stroke-width="1.1"/>
<line x1="158.5" y1="281.6" x2="181.25" y2="281.6" stroke="#3c3c3c" stroke-width="1.5"/>
<line x1="181.25" y1="281.6" x2="233.6" y2="281.6" stroke="#22228e" stroke-width="1.5"/>
<line x1="158.5" y1="289.2" x2="181.25" y2="289.2" stroke="#3c3c3c" stroke-width="1.5"/>
<line x1="181.25" y1="289.2" x2="233.6" y2="289.2" stroke="#22228e" stroke-width="1.5"/>
<line x1="158.5" y1="296.8" x2="181.25" y2="296.8" stroke="#3c3c3c" stroke-width="1.5"/>
<line x1="181.25" y1="296.8" x2="233.6" y2="296.8" stroke="#22228e" stroke-width="1.5"/>
<polygon points="234.1,281.6 237.6,277.9 259.9,277.9 263.4,281.6 259.9,285.3 237.6,285.3" fill="#fcf47e" stroke="#a8482a" stroke-width="1.0"/>
<text transform="translate(241.1,283.61) scale(0.92,0.95)" font-family="Liberation Serif" font-size="7.2" fill="#8a4010" stroke="#8a4010" stroke-width="0.18" text-anchor="start" >CS</text>
<polygon points="234.1,289.2 237.6,285.5 259.9,285.5 263.4,289.2 259.9,292.9 237.6,292.9" fill="#fcf47e" stroke="#a8482a" stroke-width="1.0"/>
<text transform="translate(241.1,291.21) scale(0.92,0.95)" font-family="Liberation Serif" font-size="7.2" fill="#8a4010" stroke="#8a4010" stroke-width="0.18" text-anchor="start" >WR</text>
<polygon points="234.1,296.8 237.6,293.1 259.9,293.1 263.4,296.8 259.9,300.5 237.6,300.5" fill="#fcf47e" stroke="#a8482a" stroke-width="1.0"/>
<text transform="translate(241.1,298.81) scale(0.92,0.95)" font-family="Liberation Serif" font-size="7.2" fill="#8a4010" stroke="#8a4010" stroke-width="0.18" text-anchor="start" >DATA</text>
<line x1="158.5" y1="334.4" x2="181.25" y2="334.4" stroke="#3c3c3c" stroke-width="1.5"/>
<line x1="181.25" y1="334.4" x2="218.75" y2="334.4" stroke="#22228e" stroke-width="1.5"/>
<circle cx="218.75" cy="334.4" r="1.7" fill="#22228e"/>
<line x1="218.75" y1="327.5" x2="218.75" y2="334.4" stroke="#8e1616" stroke-width="1.5"/>
<line x1="214.45" y1="327.5" x2="223.05" y2="327.5" stroke="#8e1616" stroke-width="1.4"/>
<text transform="translate(218.75,325.81) scale(0.92,0.95)" font-family="Liberation Serif" font-size="7.2" fill="#8a3030" stroke="#8a3030" stroke-width="0.18" text-anchor="middle" >VCC</text>
<line x1="218.75" y1="334.4" x2="218.75" y2="357.1" stroke="#22228e" stroke-width="1.5"/>
<circle cx="218.75" cy="357.1" r="1.7" fill="#22228e"/>
<line x1="158.5" y1="357.1" x2="188.2" y2="357.1" stroke="#3c3c3c" stroke-width="1.5"/>
<polyline points="188.2,357.1 190.54,359.2 195.22,355 199.9,359.2 204.58,355 209.26,359.2 211.6,357.1" fill="none" stroke="#1a1aff" stroke-width="1.15" stroke-linejoin="miter"/>
<line x1="211.6" y1="357.1" x2="218.75" y2="357.1" stroke="#3c3c3c" stroke-width="1.5"/>
<line x1="218.75" y1="357.1" x2="218.75" y2="366.2" stroke="#3c3c3c" stroke-width="1.5"/>
<line x1="212.25" y1="366.2" x2="225.25" y2="366.2" stroke="#1a1aff" stroke-width="1.3"/>
<line x1="212.25" y1="369.6" x2="225.25" y2="369.6" stroke="#1a1aff" stroke-width="1.3"/>
<line x1="218.75" y1="369.6" x2="218.75" y2="379.6" stroke="#3c3c3c" stroke-width="1.5"/>
<circle cx="218.75" cy="379.6" r="1.7" fill="#22228e"/>
<line x1="158.5" y1="379.6" x2="181.25" y2="379.6" stroke="#3c3c3c" stroke-width="1.5"/>
<line x1="181.25" y1="379.6" x2="218.75" y2="379.6" stroke="#22228e" stroke-width="1.5"/>
<line x1="218.75" y1="379.6" x2="218.75" y2="387.1" stroke="#8e1616" stroke-width="1.5"/>
<line x1="210.45" y1="387.1" x2="227.05" y2="387.1" stroke="#8e1616" stroke-width="1.2"/>
<line x1="213.45" y1="389.45" x2="224.05" y2="389.45" stroke="#8e1616" stroke-width="1.0"/>
<line x1="215.45" y1="391.75" x2="222.05" y2="391.75" stroke="#8e1616" stroke-width="1.0"/>
<line x1="217.65" y1="394" x2="219.85" y2="394" stroke="#8e1616" stroke-width="1.0"/>
<text transform="translate(218.75,400.31) scale(0.92,0.95)" font-family="Liberation Serif" font-size="7.2" fill="#8a3030" stroke="#8a3030" stroke-width="0.18" text-anchor="middle" >GND</text>
<text transform="translate(188,352.61) scale(0.92,0.95)" font-family="Liberation Serif" font-size="7.2" fill="#34348c" stroke="#34348c" stroke-width="0.18" text-anchor="start" >R17</text>
<text transform="translate(188,366.01) scale(0.92,0.95)" font-family="Liberation Serif" font-size="7.2" fill="#34348c" stroke="#34348c" stroke-width="0.18" text-anchor="start" >100R</text>
<text transform="translate(225.6,369.51) scale(0.92,0.95)" font-family="Liberation Serif" font-size="7.2" fill="#34348c" stroke="#34348c" stroke-width="0.18" text-anchor="start" >C11</text>
<text transform="translate(225.6,377.01) scale(0.92,0.95)" font-family="Liberation Serif" font-size="7.2" fill="#34348c" stroke="#34348c" stroke-width="0.18" text-anchor="start" >104</text>
<line x1="281.9" y1="282" x2="290.5" y2="282" stroke="#8e1616" stroke-width="1.4"/>
<text transform="translate(286.2,280.31) scale(0.92,0.95)" font-family="Liberation Serif" font-size="7.2" fill="#8a3030" stroke="#8a3030" stroke-width="0.18" text-anchor="middle" >VCC</text>
<line x1="286.2" y1="282" x2="286.2" y2="290.2" stroke="#8e1616" stroke-width="1.5"/>
<line x1="286.2" y1="290.2" x2="286.2" y2="296.6" stroke="#3c3c3c" stroke-width="1.5"/>
<polyline points="286.2,296.6 284,298.84 288.4,303.32 284,307.8 288.4,312.28 284,316.76 286.2,319" fill="none" stroke="#1a1aff" stroke-width="1.15" stroke-linejoin="miter"/>
<line x1="286.2" y1="319" x2="286.2" y2="341.8" stroke="#3c3c3c" stroke-width="1.5"/>
<polygon points="278,341.8 294.4,341.8 286.3,348.9" fill="#1a1aff"/>
<line x1="278" y1="349.1" x2="294.4" y2="349.1" stroke="#1a1aff" stroke-width="1.2"/>
<line x1="293.5" y1="352.4" x2="299.5" y2="357.6" stroke="#1a1aff" stroke-width="1"/>
<polygon points="300.5,358.5 296.4,357.6 299.2,354.8" fill="#1a1aff"/>
<line x1="296.6" y1="349.6" x2="302.6" y2="354.8" stroke="#1a1aff" stroke-width="1"/>
<polygon points="303.6,355.7 299.5,354.8 302.3,352" fill="#1a1aff"/>
<line x1="286.2" y1="349.1" x2="286.2" y2="379.2" stroke="#3c3c3c" stroke-width="1.5"/>
<line x1="286.1" y1="379.2" x2="293.5" y2="383.9" stroke="#1a1aff" stroke-width="1.3"/>
<line x1="293.5" y1="380.4" x2="293.5" y2="394.1" stroke="#1a1aff" stroke-width="1.4"/>
<line x1="293.5" y1="390.2" x2="286.1" y2="395.3" stroke="#1a1aff" stroke-width="1.3"/>
<polygon points="286,395.4 288.2,390.8 290.8,394.2" fill="#1a1aff"/>
<line x1="293.5" y1="387.3" x2="308.2" y2="387.3" stroke="#3c3c3c" stroke-width="1.5"/>
<line x1="308.2" y1="387.3" x2="361.8" y2="387.3" stroke="#22228e" stroke-width="1.5"/>
<line x1="286.2" y1="395.3" x2="286.2" y2="410" stroke="#3c3c3c" stroke-width="1.5"/>
<line x1="286.2" y1="410" x2="286.2" y2="418" stroke="#8e1616" stroke-width="1.5"/>
<line x1="277.9" y1="418" x2="294.5" y2="418" stroke="#8e1616" stroke-width="1.2"/>
<line x1="280.9" y1="420.35" x2="291.5" y2="420.35" stroke="#8e1616" stroke-width="1.0"/>
<line x1="282.9" y1="422.65" x2="289.5" y2="422.65" stroke="#8e1616" stroke-width="1.0"/>
<line x1="285.1" y1="424.9" x2="287.3" y2="424.9" stroke="#8e1616" stroke-width="1.0"/>
<text transform="translate(286.2,431.21) scale(0.92,0.95)" font-family="Liberation Serif" font-size="7.2" fill="#8a3030" stroke="#8a3030" stroke-width="0.18" text-anchor="middle" >GND</text>
<text transform="translate(264,339.91) scale(0.92,0.95)" font-family="Liberation Serif" font-size="7.2" fill="#34348c" stroke="#34348c" stroke-width="0.18" text-anchor="start" >D1</text>
<text transform="translate(264,354.81) scale(0.92,0.95)" font-family="Liberation Serif" font-size="7.2" fill="#34348c" stroke="#34348c" stroke-width="0.18" text-anchor="start" >LED1</text>
<text transform="translate(289.3,302.31) scale(0.92,0.95)" font-family="Liberation Serif" font-size="7.2" fill="#34348c" stroke="#34348c" stroke-width="0.18" text-anchor="start" >R14</text>
<text transform="translate(289.3,309.81) scale(0.92,0.95)" font-family="Liberation Serif" font-size="7.2" fill="#34348c" stroke="#34348c" stroke-width="0.18" text-anchor="start" >330R</text>
<text transform="translate(310.2,376.81) scale(0.92,0.95)" font-family="Liberation Serif" font-size="7.2" fill="#34348c" stroke="#34348c" stroke-width="0.18" text-anchor="start" >Q3</text>
<text transform="translate(310.2,383.91) scale(0.92,0.95)" font-family="Liberation Serif" font-size="7.2" fill="#34348c" stroke="#34348c" stroke-width="0.18" text-anchor="start" >NPN</text>
<line x1="361.8" y1="387.3" x2="361.8" y2="379.9" stroke="#3c3c3c" stroke-width="1.5"/>
<polyline points="361.8,356.3 359.6,358.66 364,363.38 359.6,368.1 364,372.82 359.6,377.54 361.8,379.9" fill="none" stroke="#1a1aff" stroke-width="1.15" stroke-linejoin="miter"/>
<line x1="361.8" y1="356.3" x2="361.8" y2="349.18" stroke="#3c3c3c" stroke-width="1.5"/>
<polyline points="361.8,349.18 421.25,349.18" fill="none" stroke="#22228e" stroke-width="1.5" stroke-linejoin="miter"/>
<text transform="translate(365,362.61) scale(0.92,0.95)" font-family="Liberation Serif" font-size="7.2" fill="#34348c" stroke="#34348c" stroke-width="0.18" text-anchor="start" >R18</text>
<text transform="translate(365,369.31) scale(0.92,0.95)" font-family="Liberation Serif" font-size="7.2" fill="#34348c" stroke="#34348c" stroke-width="0.18" text-anchor="start" >1K</text>
<line x1="391.1" y1="356.62" x2="421.25" y2="356.62" stroke="#22228e" stroke-width="1.5"/>
<line x1="391.1" y1="356.62" x2="391.1" y2="372" stroke="#3c3c3c" stroke-width="1.5"/>
<circle cx="391.1" cy="373.5" r="1.3" fill="none" stroke="#5a5aff" stroke-width="1"/>
<line x1="387" y1="371.7" x2="387" y2="394.8" stroke="#1a1aff" stroke-width="1.4"/>
<rect x="383.2" y="380.1" width="3.8" height="6.4" fill="#1a1aff"/>
<circle cx="391.1" cy="393.3" r="1.3" fill="none" stroke="#5a5aff" stroke-width="1"/>
<line x1="391.1" y1="394.6" x2="391.1" y2="409.5" stroke="#3c3c3c" stroke-width="1.5"/>
<line x1="391.1" y1="409.5" x2="391.1" y2="417.1" stroke="#8e1616" stroke-width="1.5"/>
<line x1="382.8" y1="417.1" x2="399.4" y2="417.1" stroke="#8e1616" stroke-width="1.2"/>
<line x1="385.8" y1="419.45" x2="396.4" y2="419.45" stroke="#8e1616" stroke-width="1.0"/>
<line x1="387.8" y1="421.75" x2="394.4" y2="421.75" stroke="#8e1616" stroke-width="1.0"/>
<line x1="390" y1="424" x2="392.2" y2="424" stroke="#8e1616" stroke-width="1.0"/>
<text transform="translate(391.1,430.31) scale(0.92,0.95)" font-family="Liberation Serif" font-size="7.2" fill="#8a3030" stroke="#8a3030" stroke-width="0.18" text-anchor="middle" >GND</text>
<text transform="translate(393.7,376.81) scale(0.92,0.95)" font-family="Liberation Serif" font-size="7.2" fill="#34348c" stroke="#34348c" stroke-width="0.18" text-anchor="start" >S1</text>
<text transform="translate(393.7,384.31) scale(0.92,0.95)" font-family="Liberation Serif" font-size="7.2" fill="#34348c" stroke="#34348c" stroke-width="0.18" text-anchor="start" >SW-PB</text>
<line x1="324" y1="274.3" x2="333.7" y2="274.3" stroke="#3c3c3c" stroke-width="1.5"/>
<line x1="333.7" y1="268.1" x2="333.7" y2="280.5" stroke="#1a1aff" stroke-width="1.3"/>
<line x1="337.1" y1="268.1" x2="337.1" y2="280.5" stroke="#1a1aff" stroke-width="1.3"/>
<line x1="337.1" y1="274.3" x2="345.6" y2="274.3" stroke="#3c3c3c" stroke-width="1.5"/>
<polyline points="345.6,274.3 383.5,274.3 383.5,311.98 421.25,311.98" fill="none" stroke="#22228e" stroke-width="1.5" stroke-linejoin="miter"/>
<line x1="324" y1="274.3" x2="324" y2="312.1" stroke="#22228e" stroke-width="1.5"/>
<circle cx="324" cy="312.1" r="1.7" fill="#22228e"/>
<line x1="324" y1="312.1" x2="324" y2="320" stroke="#22228e" stroke-width="1.5"/>
<line x1="324" y1="320" x2="324" y2="327.75" stroke="#8e1616" stroke-width="1.5"/>
<line x1="315.7" y1="327.75" x2="332.3" y2="327.75" stroke="#8e1616" stroke-width="1.2"/>
<line x1="318.7" y1="330.1" x2="329.3" y2="330.1" stroke="#8e1616" stroke-width="1.0"/>
<line x1="320.7" y1="332.4" x2="327.3" y2="332.4" stroke="#8e1616" stroke-width="1.0"/>
<line x1="322.9" y1="334.65" x2="325.1" y2="334.65" stroke="#8e1616" stroke-width="1.0"/>
<text transform="translate(324,340.96) scale(0.92,0.95)" font-family="Liberation Serif" font-size="7.2" fill="#8a3030" stroke="#8a3030" stroke-width="0.18" text-anchor="middle" >GND</text>
<line x1="324" y1="312.1" x2="333.7" y2="312.1" stroke="#3c3c3c" stroke-width="1.5"/>
<line x1="333.7" y1="305.9" x2="333.7" y2="318.3" stroke="#1a1aff" stroke-width="1.3"/>
<line x1="337.1" y1="305.9" x2="337.1" y2="318.3" stroke="#1a1aff" stroke-width="1.3"/>
<line x1="337.1" y1="312.1" x2="345.6" y2="312.1" stroke="#3c3c3c" stroke-width="1.5"/>
<polyline points="345.6,312.1 369.4,312.1 369.4,319.42 421.25,319.42" fill="none" stroke="#22228e" stroke-width="1.5" stroke-linejoin="miter"/>
<circle cx="361.5" cy="274.3" r="1.7" fill="#22228e"/>
<circle cx="361.5" cy="312.1" r="1.7" fill="#22228e"/>
<line x1="361.5" y1="274.3" x2="361.5" y2="289.4" stroke="#3c3c3c" stroke-width="1.5"/>
<line x1="357.5" y1="289.6" x2="365.6" y2="289.6" stroke="#1a1aff" stroke-width="1.3"/>
<rect x="356.6" y="290.8" width="11.4" height="4.2" fill="none" stroke="#1a1aff" stroke-width="1.3"/>
<line x1="357.5" y1="296.9" x2="365.6" y2="296.9" stroke="#1a1aff" stroke-width="1.3"/>
<line x1="361.5" y1="297" x2="361.5" y2="312.1" stroke="#3c3c3c" stroke-width="1.5"/>
<line x1="356.5" y1="304.6" x2="359" y2="304.6" stroke="#3c3c3c" stroke-width="1"/>
<text transform="translate(359.3,282.3) rotate(-90)" font-family="Liberation Serif" font-size="4" fill="#3a3a4a" text-anchor="middle">2</text>
<text transform="translate(330.6,266.01) scale(0.92,0.95)" font-family="Liberation Serif" font-size="7.2" fill="#34348c" stroke="#34348c" stroke-width="0.18" text-anchor="start" >C8</text>
<text transform="translate(330.6,286.71) scale(0.92,0.95)" font-family="Liberation Serif" font-size="7.2" fill="#34348c" stroke="#34348c" stroke-width="0.18" text-anchor="start" >20P</text>
<text transform="translate(330.6,303.01) scale(0.92,0.95)" font-family="Liberation Serif" font-size="7.2" fill="#34348c" stroke="#34348c" stroke-width="0.18" text-anchor="start" >C10</text>
<text transform="translate(330.6,324.71) scale(0.92,0.95)" font-family="Liberation Serif" font-size="7.2" fill="#34348c" stroke="#34348c" stroke-width="0.18" text-anchor="start" >20P</text>
<text transform="translate(369.4,295.11) scale(0.92,0.95)" font-family="Liberation Serif" font-size="7.2" fill="#34348c" stroke="#34348c" stroke-width="0.18" text-anchor="start" >Y1</text>
<text transform="translate(369.4,302.61) scale(0.92,0.95)" font-family="Liberation Serif" font-size="7.2" fill="#34348c" stroke="#34348c" stroke-width="0.18" text-anchor="start" >8M</text>
<rect x="444.5" y="289.5" width="45.5" height="82.5" fill="none" stroke="#8e1616" stroke-width="1.4"/>
<text transform="translate(445,287.51) scale(0.92,0.95)" font-family="Liberation Serif" font-size="7.2" fill="#34348c" stroke="#34348c" stroke-width="0.18" text-anchor="start" >U3</text>
<line x1="421.25" y1="297.1" x2="444.5" y2="297.1" stroke="#3c3c3c" stroke-width="1.5"/>
<line x1="490" y1="297.1" x2="513" y2="297.1" stroke="#3c3c3c" stroke-width="1.5"/>
<text transform="translate(450,299.11) scale(0.92,0.95)" font-family="Liberation Serif" font-size="7.2" fill="#3a3a4a" stroke="#3a3a4a" stroke-width="0.18" text-anchor="start" >NC</text>
<text transform="translate(484.5,299.11) scale(0.92,0.95)" font-family="Liberation Serif" font-size="7.2" fill="#3a3a4a" stroke="#3a3a4a" stroke-width="0.18" text-anchor="end" >NC</text>
<text transform="translate(437,295.41) scale(0.92,0.95)" font-family="Liberation Serif" font-size="7.2" fill="#3a3a4a" stroke="#3a3a4a" stroke-width="0.18" text-anchor="middle" >1</text>
<text transform="translate(499.5,295.41) scale(0.92,0.95)" font-family="Liberation Serif" font-size="7.2" fill="#3a3a4a" stroke="#3a3a4a" stroke-width="0.18" text-anchor="middle" >20</text>
<line x1="421.25" y1="304.54" x2="444.5" y2="304.54" stroke="#3c3c3c" stroke-width="1.5"/>
<line x1="490" y1="304.54" x2="513" y2="304.54" stroke="#3c3c3c" stroke-width="1.5"/>
<text transform="translate(450,306.55) scale(0.92,0.95)" font-family="Liberation Serif" font-size="7.2" fill="#3a3a4a" stroke="#3a3a4a" stroke-width="0.18" text-anchor="start" >VDD</text>
<text transform="translate(484.5,306.55) scale(0.92,0.95)" font-family="Liberation Serif" font-size="7.2" fill="#3a3a4a" stroke="#3a3a4a" stroke-width="0.18" text-anchor="end" >VSS</text>
<text transform="translate(437,302.85) scale(0.92,0.95)" font-family="Liberation Serif" font-size="7.2" fill="#3a3a4a" stroke="#3a3a4a" stroke-width="0.18" text-anchor="middle" >2</text>
<text transform="translate(499.5,302.85) scale(0.92,0.95)" font-family="Liberation Serif" font-size="7.2" fill="#3a3a4a" stroke="#3a3a4a" stroke-width="0.18" text-anchor="middle" >19</text>
<line x1="421.25" y1="311.98" x2="444.5" y2="311.98" stroke="#3c3c3c" stroke-width="1.5"/>
<line x1="490" y1="311.98" x2="513" y2="311.98" stroke="#3c3c3c" stroke-width="1.5"/>
<text transform="translate(450,313.99) scale(0.92,0.95)" font-family="Liberation Serif" font-size="7.2" fill="#3a3a4a" stroke="#3a3a4a" stroke-width="0.18" text-anchor="start" >P03</text>
<text transform="translate(484.5,313.99) scale(0.92,0.95)" font-family="Liberation Serif" font-size="7.2" fill="#3a3a4a" stroke="#3a3a4a" stroke-width="0.18" text-anchor="end" >P47</text>
<text transform="translate(437,310.29) scale(0.92,0.95)" font-family="Liberation Serif" font-size="7.2" fill="#3a3a4a" stroke="#3a3a4a" stroke-width="0.18" text-anchor="middle" >3</text>
<text transform="translate(499.5,310.29) scale(0.92,0.95)" font-family="Liberation Serif" font-size="7.2" fill="#3a3a4a" stroke="#3a3a4a" stroke-width="0.18" text-anchor="middle" >18</text>
<line x1="421.25" y1="319.42" x2="444.5" y2="319.42" stroke="#3c3c3c" stroke-width="1.5"/>
<line x1="490" y1="319.42" x2="513" y2="319.42" stroke="#3c3c3c" stroke-width="1.5"/>
<text transform="translate(450,321.43) scale(0.92,0.95)" font-family="Liberation Serif" font-size="7.2" fill="#3a3a4a" stroke="#3a3a4a" stroke-width="0.18" text-anchor="start" >P02</text>
<text transform="translate(484.5,321.43) scale(0.92,0.95)" font-family="Liberation Serif" font-size="7.2" fill="#3a3a4a" stroke="#3a3a4a" stroke-width="0.18" text-anchor="end" >P46</text>
<text transform="translate(437,317.73) scale(0.92,0.95)" font-family="Liberation Serif" font-size="7.2" fill="#3a3a4a" stroke="#3a3a4a" stroke-width="0.18" text-anchor="middle" >4</text>
<text transform="translate(499.5,317.73) scale(0.92,0.95)" font-family="Liberation Serif" font-size="7.2" fill="#3a3a4a" stroke="#3a3a4a" stroke-width="0.18" text-anchor="middle" >17</text>
<line x1="421.25" y1="326.86" x2="444.5" y2="326.86" stroke="#3c3c3c" stroke-width="1.5"/>
<line x1="490" y1="326.86" x2="513" y2="326.86" stroke="#3c3c3c" stroke-width="1.5"/>
<text transform="translate(450,328.87) scale(0.92,0.95)" font-family="Liberation Serif" font-size="7.2" fill="#3a3a4a" stroke="#3a3a4a" stroke-width="0.18" text-anchor="start" >P01</text>
<text transform="translate(484.5,328.87) scale(0.92,0.95)" font-family="Liberation Serif" font-size="7.2" fill="#3a3a4a" stroke="#3a3a4a" stroke-width="0.18" text-anchor="end" >P45</text>
<text transform="translate(437,325.17) scale(0.92,0.95)" font-family="Liberation Serif" font-size="7.2" fill="#3a3a4a" stroke="#3a3a4a" stroke-width="0.18" text-anchor="middle" >5</text>
<text transform="translate(499.5,325.17) scale(0.92,0.95)" font-family="Liberation Serif" font-size="7.2" fill="#3a3a4a" stroke="#3a3a4a" stroke-width="0.18" text-anchor="middle" >16</text>
<line x1="421.25" y1="334.3" x2="444.5" y2="334.3" stroke="#3c3c3c" stroke-width="1.5"/>
<line x1="490" y1="334.3" x2="513" y2="334.3" stroke="#3c3c3c" stroke-width="1.5"/>
<text transform="translate(450,336.31) scale(0.92,0.95)" font-family="Liberation Serif" font-size="7.2" fill="#3a3a4a" stroke="#3a3a4a" stroke-width="0.18" text-anchor="start" >P00</text>
<text transform="translate(484.5,336.31) scale(0.92,0.95)" font-family="Liberation Serif" font-size="7.2" fill="#3a3a4a" stroke="#3a3a4a" stroke-width="0.18" text-anchor="end" >P44</text>
<text transform="translate(437,332.61) scale(0.92,0.95)" font-family="Liberation Serif" font-size="7.2" fill="#3a3a4a" stroke="#3a3a4a" stroke-width="0.18" text-anchor="middle" >6</text>
<text transform="translate(499.5,332.61) scale(0.92,0.95)" font-family="Liberation Serif" font-size="7.2" fill="#3a3a4a" stroke="#3a3a4a" stroke-width="0.18" text-anchor="middle" >15</text>
<line x1="421.25" y1="341.74" x2="444.5" y2="341.74" stroke="#3c3c3c" stroke-width="1.5"/>
<line x1="490" y1="341.74" x2="513" y2="341.74" stroke="#3c3c3c" stroke-width="1.5"/>
<text transform="translate(450,343.75) scale(0.92,0.95)" font-family="Liberation Serif" font-size="7.2" fill="#3a3a4a" stroke="#3a3a4a" stroke-width="0.18" text-anchor="start" >P07</text>
<text transform="translate(484.5,343.75) scale(0.92,0.95)" font-family="Liberation Serif" font-size="7.2" fill="#3a3a4a" stroke="#3a3a4a" stroke-width="0.18" text-anchor="end" >P43</text>
<text transform="translate(437,340.05) scale(0.92,0.95)" font-family="Liberation Serif" font-size="7.2" fill="#3a3a4a" stroke="#3a3a4a" stroke-width="0.18" text-anchor="middle" >7</text>
<text transform="translate(499.5,340.05) scale(0.92,0.95)" font-family="Liberation Serif" font-size="7.2" fill="#3a3a4a" stroke="#3a3a4a" stroke-width="0.18" text-anchor="middle" >14</text>
<line x1="421.25" y1="349.18" x2="444.5" y2="349.18" stroke="#3c3c3c" stroke-width="1.5"/>
<line x1="490" y1="349.18" x2="513" y2="349.18" stroke="#3c3c3c" stroke-width="1.5"/>
<text transform="translate(450,351.19) scale(0.92,0.95)" font-family="Liberation Serif" font-size="7.2" fill="#3a3a4a" stroke="#3a3a4a" stroke-width="0.18" text-anchor="start" >P06</text>
<text transform="translate(484.5,351.19) scale(0.92,0.95)" font-family="Liberation Serif" font-size="7.2" fill="#3a3a4a" stroke="#3a3a4a" stroke-width="0.18" text-anchor="end" >P42</text>
<text transform="translate(437,347.49) scale(0.92,0.95)" font-family="Liberation Serif" font-size="7.2" fill="#3a3a4a" stroke="#3a3a4a" stroke-width="0.18" text-anchor="middle" >8</text>
<text transform="translate(499.5,347.49) scale(0.92,0.95)" font-family="Liberation Serif" font-size="7.2" fill="#3a3a4a" stroke="#3a3a4a" stroke-width="0.18" text-anchor="middle" >13</text>
<line x1="421.25" y1="356.62" x2="444.5" y2="356.62" stroke="#3c3c3c" stroke-width="1.5"/>
<line x1="490" y1="356.62" x2="513" y2="356.62" stroke="#3c3c3c" stroke-width="1.5"/>
<text transform="translate(450,358.63) scale(0.92,0.95)" font-family="Liberation Serif" font-size="7.2" fill="#3a3a4a" stroke="#3a3a4a" stroke-width="0.18" text-anchor="start" >P05</text>
<text transform="translate(484.5,358.63) scale(0.92,0.95)" font-family="Liberation Serif" font-size="7.2" fill="#3a3a4a" stroke="#3a3a4a" stroke-width="0.18" text-anchor="end" >P41</text>
<text transform="translate(437,354.93) scale(0.92,0.95)" font-family="Liberation Serif" font-size="7.2" fill="#3a3a4a" stroke="#3a3a4a" stroke-width="0.18" text-anchor="middle" >9</text>
<text transform="translate(499.5,354.93) scale(0.92,0.95)" font-family="Liberation Serif" font-size="7.2" fill="#3a3a4a" stroke="#3a3a4a" stroke-width="0.18" text-anchor="middle" >12</text>
<line x1="421.25" y1="364.06" x2="444.5" y2="364.06" stroke="#3c3c3c" stroke-width="1.5"/>
<line x1="490" y1="364.06" x2="513" y2="364.06" stroke="#3c3c3c" stroke-width="1.5"/>
<text transform="translate(450,366.07) scale(0.92,0.95)" font-family="Liberation Serif" font-size="7.2" fill="#3a3a4a" stroke="#3a3a4a" stroke-width="0.18" text-anchor="start" >P04</text>
<text transform="translate(484.5,366.07) scale(0.92,0.95)" font-family="Liberation Serif" font-size="7.2" fill="#3a3a4a" stroke="#3a3a4a" stroke-width="0.18" text-anchor="end" >P40</text>
<text transform="translate(437,362.37) scale(0.92,0.95)" font-family="Liberation Serif" font-size="7.2" fill="#3a3a4a" stroke="#3a3a4a" stroke-width="0.18" text-anchor="middle" >10</text>
<text transform="translate(499.5,362.37) scale(0.92,0.95)" font-family="Liberation Serif" font-size="7.2" fill="#3a3a4a" stroke="#3a3a4a" stroke-width="0.18" text-anchor="middle" >11</text>
<rect x="437" y="374.5" width="45" height="5.5" fill="#ffffff"/>
<polyline points="399.4,266.75 460,266.75" fill="none" stroke="#22228e" stroke-width="1.5" stroke-linejoin="miter"/>
<line x1="460" y1="266.75" x2="469.2" y2="266.75" stroke="#3c3c3c" stroke-width="1.5"/>
<line x1="469.2" y1="260.75" x2="469.2" y2="272.75" stroke="#1a1aff" stroke-width="1.3"/>
<line x1="472.6" y1="260.75" x2="472.6" y2="272.75" stroke="#1a1aff" stroke-width="1.3"/>
<line x1="472.6" y1="266.75" x2="482" y2="266.75" stroke="#3c3c3c" stroke-width="1.5"/>
<polyline points="482,266.75 534.4,266.75 534.4,304.54 513,304.54" fill="none" stroke="#22228e" stroke-width="1.5" stroke-linejoin="miter"/>
<circle cx="414.25" cy="266.75" r="1.7" fill="#22228e"/>
<circle cx="421.75" cy="266.75" r="1.7" fill="#22228e"/>
<line x1="421.75" y1="259.3" x2="421.75" y2="266.75" stroke="#8e1616" stroke-width="1.5"/>
<line x1="417.45" y1="259.3" x2="426.05" y2="259.3" stroke="#8e1616" stroke-width="1.4"/>
<text transform="translate(421.75,257.61) scale(0.92,0.95)" font-family="Liberation Serif" font-size="7.2" fill="#8a3030" stroke="#8a3030" stroke-width="0.18" text-anchor="middle" >VCC</text>
<polyline points="414.25,266.75 414.25,304.54 421.25,304.54" fill="none" stroke="#22228e" stroke-width="1.5" stroke-linejoin="miter"/>
<circle cx="519.5" cy="266.75" r="1.7" fill="#22228e"/>
<line x1="519.5" y1="266.75" x2="519.5" y2="274.3" stroke="#8e1616" stroke-width="1.5"/>
<line x1="511.2" y1="274.3" x2="527.8" y2="274.3" stroke="#8e1616" stroke-width="1.2"/>
<line x1="514.2" y1="276.65" x2="524.8" y2="276.65" stroke="#8e1616" stroke-width="1.0"/>
<line x1="516.2" y1="278.95" x2="522.8" y2="278.95" stroke="#8e1616" stroke-width="1.0"/>
<line x1="518.4" y1="281.2" x2="520.6" y2="281.2" stroke="#8e1616" stroke-width="1.0"/>
<text transform="translate(519.5,287.51) scale(0.92,0.95)" font-family="Liberation Serif" font-size="7.2" fill="#8a3030" stroke="#8a3030" stroke-width="0.18" text-anchor="middle" >GND</text>
<text transform="translate(467,258.31) scale(0.92,0.95)" font-family="Liberation Serif" font-size="7.2" fill="#34348c" stroke="#34348c" stroke-width="0.18" text-anchor="start" >C7</text>
<text transform="translate(467,279.01) scale(0.92,0.95)" font-family="Liberation Serif" font-size="7.2" fill="#34348c" stroke="#34348c" stroke-width="0.18" text-anchor="start" >104</text>
<line x1="399.4" y1="266.75" x2="399.4" y2="275" stroke="#3c3c3c" stroke-width="1.5"/>
<polyline points="399.4,275 397.2,277.13 401.6,281.39 397.2,285.65 401.6,289.91 397.2,294.17 399.4,296.3" fill="none" stroke="#1a1aff" stroke-width="1.15" stroke-linejoin="miter"/>
<polyline points="399.4,296.3 399.4,326.86 421.25,326.86" fill="none" stroke="#22228e" stroke-width="1.5" stroke-linejoin="miter"/>
<text transform="translate(403,279.01) scale(0.92,0.95)" font-family="Liberation Serif" font-size="7.2" fill="#34348c" stroke="#34348c" stroke-width="0.18" text-anchor="start" >R13</text>
<text transform="translate(403,286.31) scale(0.92,0.95)" font-family="Liberation Serif" font-size="7.2" fill="#34348c" stroke="#34348c" stroke-width="0.18" text-anchor="start" >10K</text>
<polygon points="392.9,330.7 418.5,330.7 422,334.4 418.5,338.1 392.9,338.1" fill="#fcf47e" stroke="#a8482a" stroke-width="1.0"/>
<text transform="translate(396.9,336.41) scale(0.92,0.95)" font-family="Liberation Serif" font-size="7.2" fill="#8a4010" stroke="#8a4010" stroke-width="0.18" text-anchor="start" >DATA</text>
<polyline points="421.25,364.06 421.25,387.2 588.25,387.2 588.25,349.1" fill="none" stroke="#22228e" stroke-width="1.5" stroke-linejoin="miter"/>
<polyline points="513,319.42 549.4,319.42 549.4,236.6 685,236.6" fill="none" stroke="#22228e" stroke-width="1.5" stroke-linejoin="miter"/>
<polygon points="511.8,345.7 537.4,345.7 540.9,349.4 537.4,353.1 511.8,353.1" fill="#fcf47e" stroke="#a8482a" stroke-width="1.0"/>
<text transform="translate(519.4,351.41) scale(0.92,0.95)" font-family="Liberation Serif" font-size="7.2" fill="#8a4010" stroke="#8a4010" stroke-width="0.18" text-anchor="start" >CS</text>
<polygon points="511.8,353.3 537.4,353.3 540.9,357 537.4,360.7 511.8,360.7" fill="#fcf47e" stroke="#a8482a" stroke-width="1.0"/>
<text transform="translate(519.4,359.01) scale(0.92,0.95)" font-family="Liberation Serif" font-size="7.2" fill="#8a4010" stroke="#8a4010" stroke-width="0.18" text-anchor="start" >WR</text>
<line x1="513" y1="364.3" x2="618.2" y2="364.3" stroke="#22228e" stroke-width="1.5"/>
<circle cx="564.5" cy="364.3" r="1.7" fill="#22228e"/>
<line x1="583.2" y1="298" x2="591.8" y2="298" stroke="#8e1616" stroke-width="1.4"/>
<text transform="translate(587.5,296.31) scale(0.92,0.95)" font-family="Liberation Serif" font-size="7.2" fill="#8a3030" stroke="#8a3030" stroke-width="0.18" text-anchor="middle" >VCC</text>
<line x1="587.5" y1="298" x2="587.5" y2="312" stroke="#8e1616" stroke-width="1.5"/>
<line x1="564.5" y1="312" x2="587.5" y2="312" stroke="#22228e" stroke-width="1.5"/>
<circle cx="587.5" cy="312" r="1.7" fill="#22228e"/>
<line x1="564.5" y1="312" x2="564.5" y2="318.75" stroke="#3c3c3c" stroke-width="1.5"/>
<polyline points="564.5,318.75 562.3,321 566.7,325.5 562.3,330 566.7,334.5 562.3,339 564.5,341.25" fill="none" stroke="#1a1aff" stroke-width="1.15" stroke-linejoin="miter"/>
<text transform="translate(567.5,325.01) scale(0.92,0.95)" font-family="Liberation Serif" font-size="7.2" fill="#34348c" stroke="#34348c" stroke-width="0.18" text-anchor="start" >R15</text>
<text transform="translate(567.5,332.51) scale(0.92,0.95)" font-family="Liberation Serif" font-size="7.2" fill="#34348c" stroke="#34348c" stroke-width="0.18" text-anchor="start" >10K</text>
<line x1="587.5" y1="312" x2="587.5" y2="318.75" stroke="#3c3c3c" stroke-width="1.5"/>
<polyline points="587.5,318.75 585.3,321 589.7,325.5 585.3,330 589.7,334.5 585.3,339 587.5,341.25" fill="none" stroke="#1a1aff" stroke-width="1.15" stroke-linejoin="miter"/>
<text transform="translate(590.5,325.01) scale(0.92,0.95)" font-family="Liberation Serif" font-size="7.2" fill="#34348c" stroke="#34348c" stroke-width="0.18" text-anchor="start" >R16</text>
<text transform="translate(590.5,332.51) scale(0.92,0.95)" font-family="Liberation Serif" font-size="7.2" fill="#34348c" stroke="#34348c" stroke-width="0.18" text-anchor="start" >10K</text>
<line x1="564.5" y1="341.25" x2="564.5" y2="364.3" stroke="#3c3c3c" stroke-width="1.5"/>
<line x1="587.5" y1="341.25" x2="587.5" y2="349.1" stroke="#3c3c3c" stroke-width="1.5"/>
<circle cx="587.5" cy="349.1" r="1.7" fill="#22228e"/>
<line x1="587.5" y1="349.1" x2="618.2" y2="349.1" stroke="#22228e" stroke-width="1.5"/>
<line x1="618.2" y1="349.1" x2="640.3" y2="349.1" stroke="#3c3c3c" stroke-width="1.5"/>
<line x1="618.2" y1="364.3" x2="640.3" y2="364.3" stroke="#3c3c3c" stroke-width="1.5"/>
<line x1="618.2" y1="356.9" x2="640.3" y2="356.9" stroke="#3c3c3c" stroke-width="1.5"/>
<rect x="640.3" y="341.8" width="44.5" height="30" fill="none" stroke="#8e1616" stroke-width="1.4"/>
<text transform="translate(640.3,340.21) scale(0.92,0.95)" font-family="Liberation Serif" font-size="7.2" fill="#34348c" stroke="#34348c" stroke-width="0.18" text-anchor="start" >U4</text>
<text transform="translate(640.3,378.51) scale(0.92,0.95)" font-family="Liberation Serif" font-size="7.2" fill="#34348c" stroke="#34348c" stroke-width="0.18" text-anchor="start" >24C02</text>
<text transform="translate(660.7,378.51) scale(0.92,0.95)" font-family="Liberation Serif" font-size="7.2" fill="#34348c" stroke="#34348c" stroke-width="0.18" text-anchor="start" >S</text>
<text transform="translate(666.5,378.51) scale(0.92,0.95)" font-family="Liberation Serif" font-size="7.2" fill="#34348c" stroke="#34348c" stroke-width="0.18" text-anchor="start" >OT23_5</text>
<text transform="translate(645,351.11) scale(0.92,0.95)" font-family="Liberation Serif" font-size="7.2" fill="#3a3a4a" stroke="#3a3a4a" stroke-width="0.18" text-anchor="start" >SCL</text>
<text transform="translate(632.5,347.41) scale(0.92,0.95)" font-family="Liberation Serif" font-size="7.2" fill="#3a3a4a" stroke="#3a3a4a" stroke-width="0.18" text-anchor="middle" >1</text>
<text transform="translate(645,358.91) scale(0.92,0.95)" font-family="Liberation Serif" font-size="7.2" fill="#3a3a4a" stroke="#3a3a4a" stroke-width="0.18" text-anchor="start" >GND</text>
<text transform="translate(632.5,355.21) scale(0.92,0.95)" font-family="Liberation Serif" font-size="7.2" fill="#3a3a4a" stroke="#3a3a4a" stroke-width="0.18" text-anchor="middle" >2</text>
<text transform="translate(645,366.51) scale(0.92,0.95)" font-family="Liberation Serif" font-size="7.2" fill="#3a3a4a" stroke="#3a3a4a" stroke-width="0.18" text-anchor="start" >SDA</text>
<text transform="translate(632.5,362.81) scale(0.92,0.95)" font-family="Liberation Serif" font-size="7.2" fill="#3a3a4a" stroke="#3a3a4a" stroke-width="0.18" text-anchor="middle" >3</text>
<text transform="translate(680,351.11) scale(0.92,0.95)" font-family="Liberation Serif" font-size="7.2" fill="#3a3a4a" stroke="#3a3a4a" stroke-width="0.18" text-anchor="end" >WP</text>
<text transform="translate(693,347.41) scale(0.92,0.95)" font-family="Liberation Serif" font-size="7.2" fill="#3a3a4a" stroke="#3a3a4a" stroke-width="0.18" text-anchor="middle" >5</text>
<text transform="translate(680,366.51) scale(0.92,0.95)" font-family="Liberation Serif" font-size="7.2" fill="#3a3a4a" stroke="#3a3a4a" stroke-width="0.18" text-anchor="end" >VCC</text>
<text transform="translate(693,362.81) scale(0.92,0.95)" font-family="Liberation Serif" font-size="7.2" fill="#3a3a4a" stroke="#3a3a4a" stroke-width="0.18" text-anchor="middle" >4</text>
<polyline points="618.2,356.9 610.5,356.9 610.5,372" fill="none" stroke="#22228e" stroke-width="1.5" stroke-linejoin="miter"/>
<line x1="610.5" y1="372" x2="610.5" y2="379.5" stroke="#8e1616" stroke-width="1.5"/>
<line x1="602.2" y1="379.5" x2="618.8" y2="379.5" stroke="#8e1616" stroke-width="1.2"/>
<line x1="605.2" y1="381.85" x2="615.8" y2="381.85" stroke="#8e1616" stroke-width="1.0"/>
<line x1="607.2" y1="384.15" x2="613.8" y2="384.15" stroke="#8e1616" stroke-width="1.0"/>
<line x1="609.4" y1="386.4" x2="611.6" y2="386.4" stroke="#8e1616" stroke-width="1.0"/>
<text transform="translate(610.5,392.71) scale(0.92,0.95)" font-family="Liberation Serif" font-size="7.2" fill="#8a3030" stroke="#8a3030" stroke-width="0.18" text-anchor="middle" >GND</text>
<line x1="684.8" y1="349.1" x2="700" y2="349.1" stroke="#3c3c3c" stroke-width="1.5"/>
<polyline points="700,349.1 738.2,349.1 738.2,357.2" fill="none" stroke="#22228e" stroke-width="1.5" stroke-linejoin="miter"/>
<line x1="738.2" y1="350" x2="738.2" y2="357.2" stroke="#8e1616" stroke-width="1.5"/>
<line x1="729.9" y1="357.2" x2="746.5" y2="357.2" stroke="#8e1616" stroke-width="1.2"/>
<line x1="732.9" y1="359.55" x2="743.5" y2="359.55" stroke="#8e1616" stroke-width="1.0"/>
<line x1="734.9" y1="361.85" x2="741.5" y2="361.85" stroke="#8e1616" stroke-width="1.0"/>
<line x1="737.1" y1="364.1" x2="739.3" y2="364.1" stroke="#8e1616" stroke-width="1.0"/>
<text transform="translate(738.2,370.41) scale(0.92,0.95)" font-family="Liberation Serif" font-size="7.2" fill="#8a3030" stroke="#8a3030" stroke-width="0.18" text-anchor="middle" >GND</text>
<line x1="684.8" y1="364.5" x2="708" y2="364.5" stroke="#3c3c3c" stroke-width="1.5"/>
<circle cx="708" cy="364.5" r="1.7" fill="#22228e"/>
<line x1="708" y1="356.9" x2="708" y2="364.5" stroke="#8e1616" stroke-width="1.5"/>
<line x1="703.7" y1="356.9" x2="712.3" y2="356.9" stroke="#8e1616" stroke-width="1.4"/>
<text transform="translate(708,355.21) scale(0.92,0.95)" font-family="Liberation Serif" font-size="7.2" fill="#8a3030" stroke="#8a3030" stroke-width="0.18" text-anchor="middle" >VCC</text>
<line x1="708" y1="364.5" x2="708" y2="374.1" stroke="#3c3c3c" stroke-width="1.5"/>
<line x1="701.2" y1="374.1" x2="714.8" y2="374.1" stroke="#1a1aff" stroke-width="1.3"/>
<line x1="701.2" y1="377.6" x2="714.8" y2="377.6" stroke="#1a1aff" stroke-width="1.3"/>
<line x1="708" y1="377.6" x2="708" y2="387.7" stroke="#3c3c3c" stroke-width="1.5"/>
<line x1="708" y1="387.7" x2="708" y2="394.5" stroke="#8e1616" stroke-width="1.5"/>
<line x1="699.7" y1="394.8" x2="716.3" y2="394.8" stroke="#8e1616" stroke-width="1.2"/>
<line x1="702.7" y1="397.15" x2="713.3" y2="397.15" stroke="#8e1616" stroke-width="1.0"/>
<line x1="704.7" y1="399.45" x2="711.3" y2="399.45" stroke="#8e1616" stroke-width="1.0"/>
<line x1="706.9" y1="401.7" x2="709.1" y2="401.7" stroke="#8e1616" stroke-width="1.0"/>
<text transform="translate(708,408.01) scale(0.92,0.95)" font-family="Liberation Serif" font-size="7.2" fill="#8a3030" stroke="#8a3030" stroke-width="0.18" text-anchor="middle" >GND</text>
<text transform="translate(715,377.51) scale(0.92,0.95)" font-family="Liberation Serif" font-size="7.2" fill="#34348c" stroke="#34348c" stroke-width="0.18" text-anchor="start" >C9</text>
<text transform="translate(715,384.51) scale(0.92,0.95)" font-family="Liberation Serif" font-size="7.2" fill="#34348c" stroke="#34348c" stroke-width="0.18" text-anchor="start" >104</text>
<circle cx="617.5" cy="236.6" r="1.7" fill="#22228e"/>
<line x1="617.5" y1="236.6" x2="617.5" y2="246" stroke="#3c3c3c" stroke-width="1.5"/>
<line x1="611" y1="246" x2="624" y2="246" stroke="#1a1aff" stroke-width="1.3"/>
<line x1="611" y1="249.3" x2="624" y2="249.3" stroke="#1a1aff" stroke-width="1.3"/>
<line x1="617.5" y1="249.3" x2="617.5" y2="258.8" stroke="#3c3c3c" stroke-width="1.5"/>
<line x1="617.5" y1="258.8" x2="617.5" y2="266.9" stroke="#8e1616" stroke-width="1.5"/>
<line x1="609.2" y1="266.9" x2="625.8" y2="266.9" stroke="#8e1616" stroke-width="1.2"/>
<line x1="612.2" y1="269.25" x2="622.8" y2="269.25" stroke="#8e1616" stroke-width="1.0"/>
<line x1="614.2" y1="271.55" x2="620.8" y2="271.55" stroke="#8e1616" stroke-width="1.0"/>
<line x1="616.4" y1="273.8" x2="618.6" y2="273.8" stroke="#8e1616" stroke-width="1.0"/>
<text transform="translate(617.5,280.11) scale(0.92,0.95)" font-family="Liberation Serif" font-size="7.2" fill="#8a3030" stroke="#8a3030" stroke-width="0.18" text-anchor="middle" >GND</text>
<text transform="translate(624,248.01) scale(0.92,0.95)" font-family="Liberation Serif" font-size="7.2" fill="#34348c" stroke="#34348c" stroke-width="0.18" text-anchor="start" >C6</text>
<text transform="translate(624,256.01) scale(0.92,0.95)" font-family="Liberation Serif" font-size="7.2" fill="#34348c" stroke="#34348c" stroke-width="0.18" text-anchor="start" >104</text>
<line x1="685" y1="236.6" x2="692.7" y2="236.6" stroke="#3c3c3c" stroke-width="1.5"/>
<polyline points="692.7,236.6 694.94,238.7 699.42,234.5 703.9,238.7 708.38,234.5 712.86,238.7 715.1,236.6" fill="none" stroke="#1a1aff" stroke-width="1.15" stroke-linejoin="miter"/>
<line x1="715.1" y1="236.6" x2="723.1" y2="236.6" stroke="#3c3c3c" stroke-width="1.5"/>
<circle cx="723.1" cy="236.6" r="1.7" fill="#22228e"/>
<line x1="718.8" y1="191.9" x2="727.4" y2="191.9" stroke="#8e1616" stroke-width="1.4"/>
<text transform="translate(723.1,190.21) scale(0.92,0.95)" font-family="Liberation Serif" font-size="7.2" fill="#8a3030" stroke="#8a3030" stroke-width="0.18" text-anchor="middle" >USB+</text>
<line x1="723.1" y1="191.9" x2="723.1" y2="200" stroke="#8e1616" stroke-width="1.5"/>
<line x1="723.1" y1="200" x2="723.1" y2="206.25" stroke="#3c3c3c" stroke-width="1.5"/>
<polyline points="723.1,206.25 720.9,208.5 725.3,213 720.9,217.5 725.3,222 720.9,226.5 723.1,228.75" fill="none" stroke="#1a1aff" stroke-width="1.15" stroke-linejoin="miter"/>
<line x1="723.1" y1="228.75" x2="723.1" y2="242.5" stroke="#3c3c3c" stroke-width="1.5"/>
<polyline points="723.1,242.5 720.9,245 725.3,250 720.9,255 725.3,260 720.9,265 723.1,267.5" fill="none" stroke="#1a1aff" stroke-width="1.15" stroke-linejoin="miter"/>
<line x1="723.1" y1="267.5" x2="723.1" y2="276" stroke="#3c3c3c" stroke-width="1.5"/>
<line x1="723.1" y1="276" x2="723.1" y2="282" stroke="#8e1616" stroke-width="1.5"/>
<line x1="714.8" y1="282" x2="731.4" y2="282" stroke="#8e1616" stroke-width="1.2"/>
<line x1="717.8" y1="284.35" x2="728.4" y2="284.35" stroke="#8e1616" stroke-width="1.0"/>
<line x1="719.8" y1="286.65" x2="726.4" y2="286.65" stroke="#8e1616" stroke-width="1.0"/>
<line x1="722" y1="288.9" x2="724.2" y2="288.9" stroke="#8e1616" stroke-width="1.0"/>
<text transform="translate(723.1,295.21) scale(0.92,0.95)" font-family="Liberation Serif" font-size="7.2" fill="#8a3030" stroke="#8a3030" stroke-width="0.18" text-anchor="middle" >GND</text>
<text transform="translate(726.3,212.01) scale(0.92,0.95)" font-family="Liberation Serif" font-size="7.2" fill="#34348c" stroke="#34348c" stroke-width="0.18" text-anchor="start" >R7</text>
<text transform="translate(726.3,219.51) scale(0.92,0.95)" font-family="Liberation Serif" font-size="7.2" fill="#34348c" stroke="#34348c" stroke-width="0.18" text-anchor="start" >200K</text>
<text transform="translate(726.3,249.01) scale(0.92,0.95)" font-family="Liberation Serif" font-size="7.2" fill="#34348c" stroke="#34348c" stroke-width="0.18" text-anchor="start" >R12</text>
<text transform="translate(726.3,256.51) scale(0.92,0.95)" font-family="Liberation Serif" font-size="7.2" fill="#34348c" stroke="#34348c" stroke-width="0.18" text-anchor="start" >100K</text>
<text transform="translate(692,232.61) scale(0.92,0.95)" font-family="Liberation Serif" font-size="7.2" fill="#34348c" stroke="#34348c" stroke-width="0.18" text-anchor="start" >R8</text>
<text transform="translate(692,245.81) scale(0.92,0.95)" font-family="Liberation Serif" font-size="7.2" fill="#34348c" stroke="#34348c" stroke-width="0.18" text-anchor="start" >10K</text>
<text x="746.25" y="241.95" font-family="Liberation Serif" font-size="15" fill="#40409c" text-anchor="start" >检测电压</text>
</g>
<text x="378.4" y="454.28" font-family="Liberation Sans" font-size="16" fill="#111111" text-anchor="start" letter-spacing="2">原理图</text>
</svg>
</body></html>
